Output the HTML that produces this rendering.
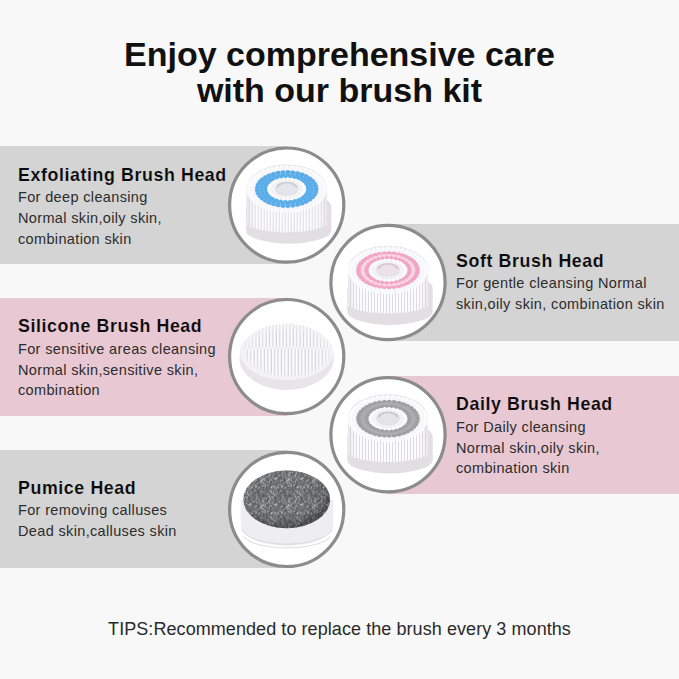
<!DOCTYPE html>
<html><head><meta charset="utf-8"><style>
html,body{margin:0;padding:0;}
body{width:679px;height:679px;background:#f8f8f8;position:relative;overflow:hidden;font-family:"Liberation Sans",sans-serif;}
.t{position:absolute;white-space:nowrap;}
.b{position:absolute;}
svg{position:absolute;left:0;top:0;}
</style></head><body>
<div class="b" style="left:0px;top:146px;width:287px;height:117.5px;background:#d4d4d4"></div>
<div class="b" style="left:388px;top:224px;width:291px;height:117.3px;background:#d4d4d4"></div>
<div class="b" style="left:0px;top:297.7px;width:287px;height:118px;background:#e8c9d3"></div>
<div class="b" style="left:388px;top:376px;width:291px;height:117.7px;background:#e8c9d3"></div>
<div class="b" style="left:0px;top:449.7px;width:287px;height:118px;background:#d4d4d4"></div>
<div class="t" style="left:0px;top:36.22px;font-size:34px;line-height:36px;font-weight:bold;color:#111;width:679px;text-align:center;">Enjoy comprehensive care</div>
<div class="t" style="left:0px;top:72.22px;font-size:34px;line-height:36px;font-weight:bold;color:#111;width:679px;text-align:center;">with our brush kit</div>
<div class="t" style="left:18px;top:163.73px;font-size:17.8px;line-height:22px;font-weight:bold;color:#0a0a0a;letter-spacing:0.6px;-webkit-text-stroke:0.15px #d4d4d4;">Exfoliating Brush Head</div>
<div class="t" style="left:18px;top:187.18px;font-size:14.5px;line-height:21px;font-weight:normal;color:#2c2c2c;letter-spacing:0.35px;">For deep cleansing</div>
<div class="t" style="left:18px;top:207.98px;font-size:14.5px;line-height:21px;font-weight:normal;color:#2c2c2c;letter-spacing:0.35px;">Normal skin,oily skin,</div>
<div class="t" style="left:18px;top:228.78px;font-size:14.5px;line-height:21px;font-weight:normal;color:#2c2c2c;letter-spacing:0.35px;">combination skin</div>
<div class="t" style="left:456px;top:249.63px;font-size:17.8px;line-height:22px;font-weight:bold;color:#0a0a0a;letter-spacing:0.6px;-webkit-text-stroke:0.15px #d4d4d4;">Soft Brush Head</div>
<div class="t" style="left:456px;top:273.08px;font-size:14.5px;line-height:21px;font-weight:normal;color:#2c2c2c;letter-spacing:0.35px;">For gentle cleansing Normal</div>
<div class="t" style="left:456px;top:293.88px;font-size:14.5px;line-height:21px;font-weight:normal;color:#2c2c2c;letter-spacing:0.35px;">skin,oily skin, combination skin</div>
<div class="t" style="left:18px;top:315.33px;font-size:17.8px;line-height:22px;font-weight:bold;color:#0a0a0a;letter-spacing:0.6px;-webkit-text-stroke:0.15px #e8c9d3;">Silicone Brush Head</div>
<div class="t" style="left:18px;top:338.78px;font-size:14.5px;line-height:21px;font-weight:normal;color:#2c2c2c;letter-spacing:0.35px;">For sensitive areas cleansing</div>
<div class="t" style="left:18px;top:359.58px;font-size:14.5px;line-height:21px;font-weight:normal;color:#2c2c2c;letter-spacing:0.35px;">Normal skin,sensitive skin,</div>
<div class="t" style="left:18px;top:380.38px;font-size:14.5px;line-height:21px;font-weight:normal;color:#2c2c2c;letter-spacing:0.35px;">combination</div>
<div class="t" style="left:456px;top:393.33px;font-size:17.8px;line-height:22px;font-weight:bold;color:#0a0a0a;letter-spacing:0.6px;-webkit-text-stroke:0.15px #e8c9d3;">Daily Brush Head</div>
<div class="t" style="left:456px;top:416.78px;font-size:14.5px;line-height:21px;font-weight:normal;color:#2c2c2c;letter-spacing:0.35px;">For Daily cleansing</div>
<div class="t" style="left:456px;top:437.58px;font-size:14.5px;line-height:21px;font-weight:normal;color:#2c2c2c;letter-spacing:0.35px;">Normal skin,oily skin,</div>
<div class="t" style="left:456px;top:458.38px;font-size:14.5px;line-height:21px;font-weight:normal;color:#2c2c2c;letter-spacing:0.35px;">combination skin</div>
<div class="t" style="left:18px;top:476.93px;font-size:17.8px;line-height:22px;font-weight:bold;color:#0a0a0a;letter-spacing:0.6px;-webkit-text-stroke:0.15px #d4d4d4;">Pumice Head</div>
<div class="t" style="left:18px;top:500.38px;font-size:14.5px;line-height:21px;font-weight:normal;color:#2c2c2c;letter-spacing:0.35px;">For removing calluses</div>
<div class="t" style="left:18px;top:521.18px;font-size:14.5px;line-height:21px;font-weight:normal;color:#2c2c2c;letter-spacing:0.35px;">Dead skin,calluses skin</div>
<div class="t" style="left:0px;top:618.76px;font-size:18px;line-height:20px;font-weight:normal;color:#2a2a2a;width:679px;text-align:center;letter-spacing:0.07px;">TIPS:Recommended to replace the brush every 3 months</div>
<svg width="679" height="679" viewBox="0 0 679 679">
<defs>
<pattern id="bristle" width="3.2" height="80" patternUnits="userSpaceOnUse">
<rect width="3.2" height="80" fill="#f7f7f9"/><rect x="2.3" width="0.9" height="80" fill="#cfcfd6"/></pattern>
<linearGradient id="sideshade" x1="0" x2="1" y1="0" y2="0">
<stop offset="0" stop-color="#b8b8c0" stop-opacity="0.3"/><stop offset="0.15" stop-color="#fff" stop-opacity="0"/>
<stop offset="0.85" stop-color="#fff" stop-opacity="0"/><stop offset="1" stop-color="#b8b8c0" stop-opacity="0.3"/></linearGradient>
<pattern id="ridges" width="4.2" height="60" patternUnits="userSpaceOnUse" x="0.5">
<rect width="4.2" height="60" fill="#f6f5f7"/><rect x="2.8" width="1.4" height="60" fill="#d6d5da"/></pattern>
<radialGradient id="stoneshade" cx="0.42" cy="0.38" r="0.6">
<stop offset="0.5" stop-color="#fff" stop-opacity="0.06"/><stop offset="1" stop-color="#000" stop-opacity="0.25"/></radialGradient>
<radialGradient id="ridgefade" cx="0.5" cy="0.5" r="0.5">
<stop offset="0.75" stop-color="#f2f1f4" stop-opacity="0"/><stop offset="1" stop-color="#f2f1f4" stop-opacity="0.85"/></radialGradient>
<pattern id="speck" width="26" height="26" patternUnits="userSpaceOnUse"><rect x="10" y="4" width="1" height="1" fill="#d0d0d4"/><rect x="20" y="1" width="1" height="1" fill="#808084"/><rect x="17" y="3" width="1" height="1" fill="#c4c4c8"/><rect x="18" y="1" width="1" height="1" fill="#a0a0a4"/><rect x="1" y="2" width="1" height="1" fill="#d0d0d4"/><rect x="13" y="2" width="1" height="1" fill="#a0a0a4"/><rect x="2" y="17" width="1" height="1" fill="#d0d0d4"/><rect x="1" y="18" width="1" height="1" fill="#808084"/><rect x="7" y="20" width="1" height="1" fill="#6e6e72"/><rect x="18" y="18" width="1" height="1" fill="#d0d0d4"/><rect x="1" y="7" width="1" height="1" fill="#6e6e72"/><rect x="17" y="4" width="1" height="1" fill="#b0b0b4"/><rect x="13" y="4" width="1" height="1" fill="#808084"/><rect x="18" y="9" width="1" height="1" fill="#909094"/><rect x="3" y="18" width="1" height="1" fill="#a0a0a4"/><rect x="11" y="3" width="1" height="1" fill="#808084"/><rect x="18" y="1" width="1" height="1" fill="#a0a0a4"/><rect x="15" y="21" width="1" height="1" fill="#d0d0d4"/><rect x="24" y="10" width="1" height="1" fill="#3a3a3e"/><rect x="18" y="14" width="1" height="1" fill="#c4c4c8"/><rect x="9" y="7" width="1" height="1" fill="#909094"/><rect x="22" y="24" width="1" height="1" fill="#a0a0a4"/><rect x="2" y="18" width="1" height="1" fill="#b0b0b4"/><rect x="16" y="15" width="1" height="1" fill="#c4c4c8"/><rect x="23" y="14" width="1" height="1" fill="#b0b0b4"/><rect x="19" y="2" width="1" height="1" fill="#808084"/><rect x="16" y="13" width="1" height="1" fill="#909094"/><rect x="24" y="10" width="1" height="1" fill="#909094"/><rect x="15" y="13" width="1" height="1" fill="#6e6e72"/><rect x="21" y="2" width="1" height="1" fill="#c4c4c8"/><rect x="10" y="22" width="1" height="1" fill="#c4c4c8"/><rect x="19" y="15" width="1" height="1" fill="#3a3a3e"/><rect x="2" y="2" width="1" height="1" fill="#b0b0b4"/><rect x="15" y="22" width="1" height="1" fill="#808084"/><rect x="1" y="23" width="1" height="1" fill="#b0b0b4"/><rect x="20" y="18" width="1" height="1" fill="#3a3a3e"/><rect x="9" y="22" width="1" height="1" fill="#d0d0d4"/><rect x="21" y="11" width="1" height="1" fill="#6e6e72"/><rect x="14" y="11" width="1" height="1" fill="#909094"/><rect x="19" y="3" width="1" height="1" fill="#3a3a3e"/><rect x="1" y="6" width="1" height="1" fill="#b0b0b4"/><rect x="4" y="23" width="1" height="1" fill="#a0a0a4"/><rect x="12" y="12" width="1" height="1" fill="#3a3a3e"/><rect x="2" y="5" width="1" height="1" fill="#3a3a3e"/><rect x="12" y="17" width="1" height="1" fill="#b0b0b4"/><rect x="4" y="13" width="1" height="1" fill="#b0b0b4"/><rect x="22" y="13" width="1" height="1" fill="#c4c4c8"/><rect x="21" y="12" width="1" height="1" fill="#a0a0a4"/><rect x="4" y="2" width="1" height="1" fill="#909094"/><rect x="4" y="7" width="1" height="1" fill="#a0a0a4"/><rect x="0" y="15" width="1" height="1" fill="#909094"/><rect x="8" y="9" width="1" height="1" fill="#6e6e72"/><rect x="4" y="13" width="1" height="1" fill="#c4c4c8"/><rect x="19" y="18" width="1" height="1" fill="#c4c4c8"/><rect x="4" y="22" width="1" height="1" fill="#6e6e72"/><rect x="14" y="24" width="1" height="1" fill="#d0d0d4"/><rect x="12" y="12" width="1" height="1" fill="#d0d0d4"/><rect x="3" y="15" width="1" height="1" fill="#d0d0d4"/><rect x="1" y="6" width="1" height="1" fill="#808084"/><rect x="6" y="14" width="1" height="1" fill="#909094"/><rect x="3" y="10" width="1" height="1" fill="#6e6e72"/><rect x="3" y="0" width="1" height="1" fill="#909094"/><rect x="17" y="3" width="1" height="1" fill="#c4c4c8"/><rect x="19" y="0" width="1" height="1" fill="#808084"/><rect x="6" y="19" width="1" height="1" fill="#d0d0d4"/><rect x="4" y="20" width="1" height="1" fill="#b0b0b4"/><rect x="11" y="19" width="1" height="1" fill="#c4c4c8"/><rect x="15" y="3" width="1" height="1" fill="#808084"/><rect x="15" y="14" width="1" height="1" fill="#3a3a3e"/><rect x="15" y="9" width="1" height="1" fill="#808084"/><rect x="4" y="3" width="1" height="1" fill="#c4c4c8"/><rect x="23" y="8" width="1" height="1" fill="#3a3a3e"/><rect x="22" y="5" width="1" height="1" fill="#6e6e72"/><rect x="6" y="16" width="1" height="1" fill="#c4c4c8"/><rect x="4" y="22" width="1" height="1" fill="#6e6e72"/><rect x="24" y="16" width="1" height="1" fill="#b0b0b4"/><rect x="20" y="2" width="1" height="1" fill="#b0b0b4"/><rect x="16" y="11" width="1" height="1" fill="#909094"/><rect x="11" y="24" width="1" height="1" fill="#a0a0a4"/><rect x="17" y="17" width="1" height="1" fill="#c4c4c8"/><rect x="20" y="7" width="1" height="1" fill="#a0a0a4"/><rect x="25" y="7" width="1" height="1" fill="#d0d0d4"/><rect x="23" y="25" width="1" height="1" fill="#a0a0a4"/><rect x="6" y="16" width="1" height="1" fill="#3a3a3e"/><rect x="11" y="23" width="1" height="1" fill="#6e6e72"/><rect x="0" y="25" width="1" height="1" fill="#b0b0b4"/><rect x="15" y="8" width="1" height="1" fill="#a0a0a4"/><rect x="22" y="19" width="1" height="1" fill="#c4c4c8"/><rect x="14" y="25" width="1" height="1" fill="#c4c4c8"/><rect x="11" y="2" width="1" height="1" fill="#a0a0a4"/><rect x="3" y="7" width="1" height="1" fill="#3a3a3e"/><rect x="6" y="10" width="1" height="1" fill="#a0a0a4"/><rect x="15" y="19" width="1" height="1" fill="#6e6e72"/><rect x="15" y="20" width="1" height="1" fill="#c4c4c8"/><rect x="25" y="20" width="1" height="1" fill="#808084"/><rect x="21" y="3" width="1" height="1" fill="#d0d0d4"/><rect x="25" y="22" width="1" height="1" fill="#a0a0a4"/><rect x="15" y="5" width="1" height="1" fill="#d0d0d4"/><rect x="25" y="20" width="1" height="1" fill="#c4c4c8"/><rect x="2" y="25" width="1" height="1" fill="#d0d0d4"/><rect x="14" y="12" width="1" height="1" fill="#808084"/><rect x="23" y="5" width="1" height="1" fill="#909094"/><rect x="4" y="0" width="1" height="1" fill="#909094"/><rect x="18" y="14" width="1" height="1" fill="#909094"/><rect x="19" y="19" width="1" height="1" fill="#3a3a3e"/><rect x="21" y="11" width="1" height="1" fill="#909094"/><rect x="17" y="17" width="1" height="1" fill="#909094"/><rect x="0" y="0" width="1" height="1" fill="#808084"/><rect x="16" y="23" width="1" height="1" fill="#909094"/><rect x="13" y="6" width="1" height="1" fill="#a0a0a4"/><rect x="0" y="8" width="1" height="1" fill="#a0a0a4"/><rect x="9" y="16" width="1" height="1" fill="#a0a0a4"/><rect x="24" y="18" width="1" height="1" fill="#c4c4c8"/><rect x="8" y="17" width="1" height="1" fill="#d0d0d4"/><rect x="4" y="1" width="1" height="1" fill="#c4c4c8"/><rect x="14" y="21" width="1" height="1" fill="#d0d0d4"/><rect x="16" y="4" width="1" height="1" fill="#909094"/><rect x="16" y="16" width="1" height="1" fill="#6e6e72"/><rect x="14" y="24" width="1" height="1" fill="#909094"/><rect x="19" y="0" width="1" height="1" fill="#909094"/><rect x="5" y="4" width="1" height="1" fill="#3a3a3e"/><rect x="19" y="23" width="1" height="1" fill="#808084"/><rect x="17" y="1" width="1" height="1" fill="#c4c4c8"/><rect x="21" y="16" width="1" height="1" fill="#3a3a3e"/><rect x="25" y="24" width="1" height="1" fill="#808084"/><rect x="17" y="1" width="1" height="1" fill="#a0a0a4"/><rect x="6" y="8" width="1" height="1" fill="#6e6e72"/><rect x="24" y="3" width="1" height="1" fill="#3a3a3e"/><rect x="17" y="0" width="1" height="1" fill="#808084"/><rect x="14" y="10" width="1" height="1" fill="#a0a0a4"/><rect x="22" y="8" width="1" height="1" fill="#3a3a3e"/><rect x="16" y="17" width="1" height="1" fill="#3a3a3e"/><rect x="16" y="7" width="1" height="1" fill="#b0b0b4"/><rect x="17" y="6" width="1" height="1" fill="#3a3a3e"/><rect x="4" y="13" width="1" height="1" fill="#808084"/><rect x="12" y="14" width="1" height="1" fill="#c4c4c8"/><rect x="2" y="21" width="1" height="1" fill="#a0a0a4"/><rect x="13" y="2" width="1" height="1" fill="#a0a0a4"/><rect x="21" y="9" width="1" height="1" fill="#808084"/><rect x="24" y="4" width="1" height="1" fill="#c4c4c8"/><rect x="4" y="8" width="1" height="1" fill="#909094"/><rect x="14" y="7" width="1" height="1" fill="#808084"/><rect x="12" y="15" width="1" height="1" fill="#909094"/><rect x="21" y="7" width="1" height="1" fill="#909094"/><rect x="22" y="13" width="1" height="1" fill="#d0d0d4"/><rect x="10" y="13" width="1" height="1" fill="#a0a0a4"/><rect x="11" y="10" width="1" height="1" fill="#808084"/><rect x="23" y="11" width="1" height="1" fill="#6e6e72"/><rect x="10" y="17" width="1" height="1" fill="#3a3a3e"/><rect x="14" y="22" width="1" height="1" fill="#6e6e72"/><rect x="12" y="10" width="1" height="1" fill="#b0b0b4"/><rect x="16" y="2" width="1" height="1" fill="#808084"/><rect x="25" y="7" width="1" height="1" fill="#808084"/><rect x="2" y="8" width="1" height="1" fill="#b0b0b4"/><rect x="1" y="24" width="1" height="1" fill="#909094"/><rect x="8" y="24" width="1" height="1" fill="#909094"/><rect x="13" y="21" width="1" height="1" fill="#b0b0b4"/><rect x="12" y="4" width="1" height="1" fill="#3a3a3e"/><rect x="22" y="10" width="1" height="1" fill="#808084"/><rect x="8" y="1" width="1" height="1" fill="#909094"/><rect x="13" y="2" width="1" height="1" fill="#b0b0b4"/><rect x="0" y="20" width="1" height="1" fill="#808084"/><rect x="25" y="8" width="1" height="1" fill="#808084"/><rect x="19" y="7" width="1" height="1" fill="#808084"/><rect x="8" y="3" width="1" height="1" fill="#3a3a3e"/><rect x="0" y="10" width="1" height="1" fill="#d0d0d4"/><rect x="8" y="19" width="1" height="1" fill="#909094"/><rect x="1" y="16" width="1" height="1" fill="#a0a0a4"/><rect x="3" y="5" width="1" height="1" fill="#b0b0b4"/><rect x="1" y="5" width="1" height="1" fill="#a0a0a4"/><rect x="9" y="20" width="1" height="1" fill="#b0b0b4"/><rect x="16" y="24" width="1" height="1" fill="#a0a0a4"/><rect x="9" y="14" width="1" height="1" fill="#909094"/><rect x="8" y="11" width="1" height="1" fill="#6e6e72"/><rect x="8" y="1" width="1" height="1" fill="#6e6e72"/><rect x="0" y="23" width="1" height="1" fill="#a0a0a4"/><rect x="16" y="15" width="1" height="1" fill="#a0a0a4"/><rect x="14" y="3" width="1" height="1" fill="#d0d0d4"/><rect x="21" y="15" width="1" height="1" fill="#d0d0d4"/><rect x="16" y="9" width="1" height="1" fill="#a0a0a4"/><rect x="7" y="10" width="1" height="1" fill="#a0a0a4"/><rect x="22" y="23" width="1" height="1" fill="#909094"/><rect x="12" y="11" width="1" height="1" fill="#6e6e72"/><rect x="4" y="0" width="1" height="1" fill="#808084"/><rect x="20" y="23" width="1" height="1" fill="#b0b0b4"/><rect x="13" y="5" width="1" height="1" fill="#6e6e72"/><rect x="2" y="21" width="1" height="1" fill="#d0d0d4"/><rect x="16" y="21" width="1" height="1" fill="#b0b0b4"/><rect x="19" y="7" width="1" height="1" fill="#b0b0b4"/><rect x="1" y="14" width="1" height="1" fill="#909094"/><rect x="5" y="8" width="1" height="1" fill="#3a3a3e"/><rect x="0" y="8" width="1" height="1" fill="#c4c4c8"/><rect x="10" y="17" width="1" height="1" fill="#c4c4c8"/><rect x="7" y="1" width="1" height="1" fill="#b0b0b4"/><rect x="6" y="11" width="1" height="1" fill="#909094"/><rect x="0" y="10" width="1" height="1" fill="#d0d0d4"/><rect x="2" y="15" width="1" height="1" fill="#b0b0b4"/><rect x="16" y="20" width="1" height="1" fill="#a0a0a4"/><rect x="7" y="16" width="1" height="1" fill="#6e6e72"/><rect x="2" y="8" width="1" height="1" fill="#808084"/><rect x="4" y="12" width="1" height="1" fill="#6e6e72"/><rect x="12" y="0" width="1" height="1" fill="#b0b0b4"/><rect x="9" y="20" width="1" height="1" fill="#a0a0a4"/><rect x="2" y="18" width="1" height="1" fill="#909094"/><rect x="21" y="22" width="1" height="1" fill="#d0d0d4"/><rect x="24" y="10" width="1" height="1" fill="#3a3a3e"/><rect x="4" y="9" width="1" height="1" fill="#909094"/><rect x="1" y="22" width="1" height="1" fill="#d0d0d4"/><rect x="23" y="22" width="1" height="1" fill="#909094"/><rect x="16" y="24" width="1" height="1" fill="#6e6e72"/><rect x="21" y="18" width="1" height="1" fill="#a0a0a4"/><rect x="2" y="0" width="1" height="1" fill="#6e6e72"/><rect x="4" y="20" width="1" height="1" fill="#c4c4c8"/><rect x="3" y="12" width="1" height="1" fill="#3a3a3e"/><rect x="17" y="1" width="1" height="1" fill="#6e6e72"/><rect x="20" y="17" width="1" height="1" fill="#a0a0a4"/><rect x="15" y="8" width="1" height="1" fill="#6e6e72"/><rect x="14" y="25" width="1" height="1" fill="#808084"/><rect x="23" y="16" width="1" height="1" fill="#808084"/><rect x="21" y="16" width="1" height="1" fill="#808084"/><rect x="23" y="23" width="1" height="1" fill="#3a3a3e"/><rect x="8" y="25" width="1" height="1" fill="#808084"/><rect x="8" y="7" width="1" height="1" fill="#a0a0a4"/><rect x="7" y="23" width="1" height="1" fill="#3a3a3e"/><rect x="15" y="12" width="1" height="1" fill="#808084"/><rect x="15" y="21" width="1" height="1" fill="#b0b0b4"/><rect x="24" y="1" width="1" height="1" fill="#a0a0a4"/><rect x="2" y="19" width="1" height="1" fill="#909094"/><rect x="10" y="8" width="1" height="1" fill="#b0b0b4"/><rect x="19" y="18" width="1" height="1" fill="#909094"/><rect x="0" y="15" width="1" height="1" fill="#6e6e72"/><rect x="15" y="8" width="1" height="1" fill="#808084"/><rect x="22" y="6" width="1" height="1" fill="#3a3a3e"/><rect x="9" y="22" width="1" height="1" fill="#b0b0b4"/><rect x="14" y="14" width="1" height="1" fill="#3a3a3e"/><rect x="24" y="3" width="1" height="1" fill="#a0a0a4"/><rect x="9" y="2" width="1" height="1" fill="#3a3a3e"/><rect x="0" y="9" width="1" height="1" fill="#3a3a3e"/><rect x="2" y="16" width="1" height="1" fill="#3a3a3e"/><rect x="8" y="12" width="1" height="1" fill="#a0a0a4"/><rect x="6" y="2" width="1" height="1" fill="#808084"/><rect x="4" y="23" width="1" height="1" fill="#b0b0b4"/><rect x="11" y="4" width="1" height="1" fill="#b0b0b4"/><rect x="3" y="22" width="1" height="1" fill="#c4c4c8"/><rect x="7" y="15" width="1" height="1" fill="#3a3a3e"/><rect x="12" y="0" width="1" height="1" fill="#909094"/><rect x="0" y="15" width="1" height="1" fill="#3a3a3e"/><rect x="12" y="9" width="1" height="1" fill="#909094"/><rect x="13" y="11" width="1" height="1" fill="#d0d0d4"/><rect x="10" y="3" width="1" height="1" fill="#c4c4c8"/><rect x="0" y="10" width="1" height="1" fill="#c4c4c8"/><rect x="12" y="3" width="1" height="1" fill="#a0a0a4"/><rect x="22" y="0" width="1" height="1" fill="#b0b0b4"/><rect x="8" y="11" width="1" height="1" fill="#808084"/><rect x="12" y="12" width="1" height="1" fill="#808084"/><rect x="11" y="13" width="1" height="1" fill="#b0b0b4"/><rect x="1" y="8" width="1" height="1" fill="#808084"/><rect x="1" y="21" width="1" height="1" fill="#b0b0b4"/><rect x="20" y="4" width="1" height="1" fill="#a0a0a4"/><rect x="8" y="13" width="1" height="1" fill="#c4c4c8"/><rect x="6" y="24" width="1" height="1" fill="#c4c4c8"/><rect x="25" y="13" width="1" height="1" fill="#6e6e72"/><rect x="25" y="24" width="1" height="1" fill="#d0d0d4"/><rect x="17" y="17" width="1" height="1" fill="#a0a0a4"/><rect x="23" y="2" width="1" height="1" fill="#6e6e72"/><rect x="23" y="13" width="1" height="1" fill="#3a3a3e"/><rect x="19" y="24" width="1" height="1" fill="#909094"/><rect x="20" y="9" width="1" height="1" fill="#3a3a3e"/><rect x="1" y="17" width="1" height="1" fill="#909094"/><rect x="5" y="15" width="1" height="1" fill="#d0d0d4"/><rect x="10" y="9" width="1" height="1" fill="#b0b0b4"/><rect x="8" y="23" width="1" height="1" fill="#b0b0b4"/><rect x="12" y="20" width="1" height="1" fill="#a0a0a4"/><rect x="9" y="15" width="1" height="1" fill="#d0d0d4"/><rect x="3" y="5" width="1" height="1" fill="#909094"/><rect x="2" y="6" width="1" height="1" fill="#3a3a3e"/><rect x="17" y="7" width="1" height="1" fill="#3a3a3e"/><rect x="10" y="24" width="1" height="1" fill="#3a3a3e"/><rect x="13" y="4" width="1" height="1" fill="#a0a0a4"/><rect x="7" y="2" width="1" height="1" fill="#909094"/><rect x="10" y="17" width="1" height="1" fill="#808084"/><rect x="10" y="7" width="1" height="1" fill="#c4c4c8"/><rect x="8" y="25" width="1" height="1" fill="#a0a0a4"/><rect x="0" y="23" width="1" height="1" fill="#d0d0d4"/><rect x="12" y="13" width="1" height="1" fill="#a0a0a4"/><rect x="12" y="8" width="1" height="1" fill="#c4c4c8"/><rect x="24" y="1" width="1" height="1" fill="#3a3a3e"/><rect x="8" y="18" width="1" height="1" fill="#c4c4c8"/><rect x="4" y="21" width="1" height="1" fill="#a0a0a4"/><rect x="2" y="8" width="1" height="1" fill="#a0a0a4"/><rect x="12" y="12" width="1" height="1" fill="#3a3a3e"/><rect x="13" y="9" width="1" height="1" fill="#6e6e72"/><rect x="4" y="1" width="1" height="1" fill="#d0d0d4"/><rect x="22" y="24" width="1" height="1" fill="#3a3a3e"/><rect x="18" y="15" width="1" height="1" fill="#6e6e72"/><rect x="2" y="12" width="1" height="1" fill="#3a3a3e"/><rect x="14" y="7" width="1" height="1" fill="#808084"/><rect x="7" y="4" width="1" height="1" fill="#909094"/><rect x="16" y="21" width="1" height="1" fill="#808084"/><rect x="23" y="22" width="1" height="1" fill="#3a3a3e"/></pattern>
</defs>
<circle cx="286.7" cy="205.1" r="57.1" fill="#fff" stroke="#8c8c8c" stroke-width="3.2"/>
<circle cx="388" cy="282.5" r="57.1" fill="#fff" stroke="#8c8c8c" stroke-width="3.2"/>
<circle cx="286.7" cy="356.6" r="57.1" fill="#fff" stroke="#8c8c8c" stroke-width="3.2"/>
<circle cx="388" cy="434.8" r="57.1" fill="#fff" stroke="#8c8c8c" stroke-width="3.2"/>
<circle cx="286.7" cy="509.4" r="57.1" fill="#fff" stroke="#8c8c8c" stroke-width="3.2"/>
<g transform="translate(286.7,205.1)">
<path d="M-40.7,24 L-40.7,2 A42.7,16 0 0 1 44.7,2 L44.7,24 A42.7,14.5 0 0 1 -40.7,24 Z" fill="#e2dee2"/>
<path d="M-40.7,24 A42.7,14.5 0 0 0 44.7,24 L44.7,26.5 A42.7,11.5 0 0 1 -40.7,26.5 Z" fill="#d3ced4" opacity="0.5"/>
<path d="M-40,-17.3 L-40,17 A40,10.5 0 0 0 40,17 L40,-17.3 Z" fill="#d9d9df"/>
<path d="M-39.0,-14.0V18.8M-36.0,-9.7V20.8M-33.0,-6.9V22.1M-30.0,-4.7V23.1M-27.0,-3.0V23.8M-24.0,-1.6V24.5M-21.0,-0.5V25.0M-18.0,0.5V25.4M-15.0,1.3V25.8M-12.0,1.9V26.0M-9.0,2.3V26.2M-6.0,2.6V26.4M-3.0,2.8V26.5M0.0,2.9V26.5M3.0,2.8V26.5M6.0,2.6V26.4M9.0,2.3V26.2M12.0,1.9V26.0M15.0,1.3V25.8M18.0,0.5V25.4M21.0,-0.5V25.0M24.0,-1.6V24.5M27.0,-3.0V23.8M30.0,-4.7V23.1M33.0,-6.9V22.1M36.0,-9.7V20.8M39.0,-14.0V18.8" stroke="#fcfcfe" stroke-width="2.1" stroke-linecap="round" fill="none"/>
<path d="M-40,-17.3 L-40,17 A40,10.5 0 0 0 40,17 L40,-17.3 Z" fill="url(#sideshade)"/>
<ellipse cx="0" cy="-17.3" rx="40.0" ry="23.2" fill="#e2e2e8"/>
<ellipse cx="0" cy="-16.1" rx="31.5" ry="18.3" fill="#a6d1f0"/>
<ellipse cx="0" cy="-16.1" rx="19.5" ry="11.3" fill="#e2e2e8"/>
<ellipse cx="38.0" cy="-16.1" rx="2.4" ry="1.9" fill="#fbfbfd"/><ellipse cx="37.7" cy="-13.2" rx="2.4" ry="1.9" fill="#fbfbfd"/><ellipse cx="36.7" cy="-10.4" rx="2.4" ry="1.9" fill="#fbfbfd"/><ellipse cx="35.1" cy="-7.7" rx="2.4" ry="1.9" fill="#fbfbfd"/><ellipse cx="32.9" cy="-5.1" rx="2.4" ry="1.9" fill="#fbfbfd"/><ellipse cx="30.1" cy="-2.7" rx="2.4" ry="1.9" fill="#fbfbfd"/><ellipse cx="26.9" cy="-0.5" rx="2.4" ry="1.9" fill="#fbfbfd"/><ellipse cx="23.1" cy="1.4" rx="2.4" ry="1.9" fill="#fbfbfd"/><ellipse cx="19.0" cy="3.0" rx="2.4" ry="1.9" fill="#fbfbfd"/><ellipse cx="14.5" cy="4.3" rx="2.4" ry="1.9" fill="#fbfbfd"/><ellipse cx="9.8" cy="5.2" rx="2.4" ry="1.9" fill="#fbfbfd"/><ellipse cx="5.0" cy="5.8" rx="2.4" ry="1.9" fill="#fbfbfd"/><ellipse cx="0.0" cy="5.9" rx="2.4" ry="1.9" fill="#fbfbfd"/><ellipse cx="-5.0" cy="5.8" rx="2.4" ry="1.9" fill="#fbfbfd"/><ellipse cx="-9.8" cy="5.2" rx="2.4" ry="1.9" fill="#fbfbfd"/><ellipse cx="-14.5" cy="4.3" rx="2.4" ry="1.9" fill="#fbfbfd"/><ellipse cx="-19.0" cy="3.0" rx="2.4" ry="1.9" fill="#fbfbfd"/><ellipse cx="-23.1" cy="1.4" rx="2.4" ry="1.9" fill="#fbfbfd"/><ellipse cx="-26.9" cy="-0.5" rx="2.4" ry="1.9" fill="#fbfbfd"/><ellipse cx="-30.1" cy="-2.7" rx="2.4" ry="1.9" fill="#fbfbfd"/><ellipse cx="-32.9" cy="-5.1" rx="2.4" ry="1.9" fill="#fbfbfd"/><ellipse cx="-35.1" cy="-7.7" rx="2.4" ry="1.9" fill="#fbfbfd"/><ellipse cx="-36.7" cy="-10.4" rx="2.4" ry="1.9" fill="#fbfbfd"/><ellipse cx="-37.7" cy="-13.2" rx="2.4" ry="1.9" fill="#fbfbfd"/><ellipse cx="-38.0" cy="-16.1" rx="2.4" ry="1.9" fill="#fbfbfd"/><ellipse cx="-37.7" cy="-19.0" rx="2.4" ry="1.9" fill="#fbfbfd"/><ellipse cx="-36.7" cy="-21.8" rx="2.4" ry="1.9" fill="#fbfbfd"/><ellipse cx="-35.1" cy="-24.5" rx="2.4" ry="1.9" fill="#fbfbfd"/><ellipse cx="-32.9" cy="-27.1" rx="2.4" ry="1.9" fill="#fbfbfd"/><ellipse cx="-30.1" cy="-29.5" rx="2.4" ry="1.9" fill="#fbfbfd"/><ellipse cx="-26.9" cy="-31.7" rx="2.4" ry="1.9" fill="#fbfbfd"/><ellipse cx="-23.1" cy="-33.6" rx="2.4" ry="1.9" fill="#fbfbfd"/><ellipse cx="-19.0" cy="-35.2" rx="2.4" ry="1.9" fill="#fbfbfd"/><ellipse cx="-14.5" cy="-36.5" rx="2.4" ry="1.9" fill="#fbfbfd"/><ellipse cx="-9.8" cy="-37.4" rx="2.4" ry="1.9" fill="#fbfbfd"/><ellipse cx="-5.0" cy="-38.0" rx="2.4" ry="1.9" fill="#fbfbfd"/><ellipse cx="-0.0" cy="-38.1" rx="2.4" ry="1.9" fill="#fbfbfd"/><ellipse cx="5.0" cy="-38.0" rx="2.4" ry="1.9" fill="#fbfbfd"/><ellipse cx="9.8" cy="-37.4" rx="2.4" ry="1.9" fill="#fbfbfd"/><ellipse cx="14.5" cy="-36.5" rx="2.4" ry="1.9" fill="#fbfbfd"/><ellipse cx="19.0" cy="-35.2" rx="2.4" ry="1.9" fill="#fbfbfd"/><ellipse cx="23.1" cy="-33.6" rx="2.4" ry="1.9" fill="#fbfbfd"/><ellipse cx="26.9" cy="-31.7" rx="2.4" ry="1.9" fill="#fbfbfd"/><ellipse cx="30.1" cy="-29.5" rx="2.4" ry="1.9" fill="#fbfbfd"/><ellipse cx="32.9" cy="-27.1" rx="2.4" ry="1.9" fill="#fbfbfd"/><ellipse cx="35.1" cy="-24.5" rx="2.4" ry="1.9" fill="#fbfbfd"/><ellipse cx="36.7" cy="-21.8" rx="2.4" ry="1.9" fill="#fbfbfd"/><ellipse cx="37.7" cy="-19.0" rx="2.4" ry="1.9" fill="#fbfbfd"/>
<ellipse cx="34.1" cy="-14.7" rx="2.3" ry="1.8" fill="#f8f8fa"/><ellipse cx="33.5" cy="-12.0" rx="2.3" ry="1.8" fill="#f8f8fa"/><ellipse cx="32.1" cy="-9.3" rx="2.3" ry="1.8" fill="#f8f8fa"/><ellipse cx="30.2" cy="-6.8" rx="2.3" ry="1.8" fill="#f8f8fa"/><ellipse cx="27.7" cy="-4.4" rx="2.3" ry="1.8" fill="#f8f8fa"/><ellipse cx="24.6" cy="-2.3" rx="2.3" ry="1.8" fill="#f8f8fa"/><ellipse cx="21.1" cy="-0.5" rx="2.3" ry="1.8" fill="#f8f8fa"/><ellipse cx="17.1" cy="1.1" rx="2.3" ry="1.8" fill="#f8f8fa"/><ellipse cx="12.8" cy="2.3" rx="2.3" ry="1.8" fill="#f8f8fa"/><ellipse cx="8.3" cy="3.1" rx="2.3" ry="1.8" fill="#f8f8fa"/><ellipse cx="3.6" cy="3.6" rx="2.3" ry="1.8" fill="#f8f8fa"/><ellipse cx="-1.2" cy="3.7" rx="2.3" ry="1.8" fill="#f8f8fa"/><ellipse cx="-5.9" cy="3.4" rx="2.3" ry="1.8" fill="#f8f8fa"/><ellipse cx="-10.6" cy="2.8" rx="2.3" ry="1.8" fill="#f8f8fa"/><ellipse cx="-15.0" cy="1.7" rx="2.3" ry="1.8" fill="#f8f8fa"/><ellipse cx="-19.1" cy="0.3" rx="2.3" ry="1.8" fill="#f8f8fa"/><ellipse cx="-22.9" cy="-1.4" rx="2.3" ry="1.8" fill="#f8f8fa"/><ellipse cx="-26.2" cy="-3.3" rx="2.3" ry="1.8" fill="#f8f8fa"/><ellipse cx="-29.0" cy="-5.6" rx="2.3" ry="1.8" fill="#f8f8fa"/><ellipse cx="-31.2" cy="-8.0" rx="2.3" ry="1.8" fill="#f8f8fa"/><ellipse cx="-32.9" cy="-10.6" rx="2.3" ry="1.8" fill="#f8f8fa"/><ellipse cx="-33.9" cy="-13.3" rx="2.3" ry="1.8" fill="#f8f8fa"/><ellipse cx="-34.2" cy="-16.1" rx="2.3" ry="1.8" fill="#f8f8fa"/><ellipse cx="-33.9" cy="-18.9" rx="2.3" ry="1.8" fill="#f8f8fa"/><ellipse cx="-32.9" cy="-21.6" rx="2.3" ry="1.8" fill="#f8f8fa"/><ellipse cx="-31.2" cy="-24.2" rx="2.3" ry="1.8" fill="#f8f8fa"/><ellipse cx="-29.0" cy="-26.6" rx="2.3" ry="1.8" fill="#f8f8fa"/><ellipse cx="-26.2" cy="-28.9" rx="2.3" ry="1.8" fill="#f8f8fa"/><ellipse cx="-22.9" cy="-30.8" rx="2.3" ry="1.8" fill="#f8f8fa"/><ellipse cx="-19.1" cy="-32.5" rx="2.3" ry="1.8" fill="#f8f8fa"/><ellipse cx="-15.0" cy="-33.9" rx="2.3" ry="1.8" fill="#f8f8fa"/><ellipse cx="-10.6" cy="-35.0" rx="2.3" ry="1.8" fill="#f8f8fa"/><ellipse cx="-5.9" cy="-35.6" rx="2.3" ry="1.8" fill="#f8f8fa"/><ellipse cx="-1.2" cy="-35.9" rx="2.3" ry="1.8" fill="#f8f8fa"/><ellipse cx="3.6" cy="-35.8" rx="2.3" ry="1.8" fill="#f8f8fa"/><ellipse cx="8.3" cy="-35.3" rx="2.3" ry="1.8" fill="#f8f8fa"/><ellipse cx="12.8" cy="-34.5" rx="2.3" ry="1.8" fill="#f8f8fa"/><ellipse cx="17.1" cy="-33.3" rx="2.3" ry="1.8" fill="#f8f8fa"/><ellipse cx="21.1" cy="-31.7" rx="2.3" ry="1.8" fill="#f8f8fa"/><ellipse cx="24.6" cy="-29.9" rx="2.3" ry="1.8" fill="#f8f8fa"/><ellipse cx="27.7" cy="-27.8" rx="2.3" ry="1.8" fill="#f8f8fa"/><ellipse cx="30.2" cy="-25.4" rx="2.3" ry="1.8" fill="#f8f8fa"/><ellipse cx="32.1" cy="-22.9" rx="2.3" ry="1.8" fill="#f8f8fa"/><ellipse cx="33.5" cy="-20.2" rx="2.3" ry="1.8" fill="#f8f8fa"/><ellipse cx="34.1" cy="-17.5" rx="2.3" ry="1.8" fill="#f8f8fa"/>
<ellipse cx="29.4" cy="-16.1" rx="2.4" ry="1.9" fill="#5aade8"/><ellipse cx="29.0" cy="-13.2" rx="2.4" ry="1.9" fill="#5aade8"/><ellipse cx="27.7" cy="-10.4" rx="2.4" ry="1.9" fill="#5aade8"/><ellipse cx="25.7" cy="-7.8" rx="2.4" ry="1.9" fill="#5aade8"/><ellipse cx="22.9" cy="-5.4" rx="2.4" ry="1.9" fill="#5aade8"/><ellipse cx="19.4" cy="-3.3" rx="2.4" ry="1.9" fill="#5aade8"/><ellipse cx="15.4" cy="-1.6" rx="2.4" ry="1.9" fill="#5aade8"/><ellipse cx="11.0" cy="-0.3" rx="2.4" ry="1.9" fill="#5aade8"/><ellipse cx="6.2" cy="0.6" rx="2.4" ry="1.9" fill="#5aade8"/><ellipse cx="1.2" cy="0.9" rx="2.4" ry="1.9" fill="#5aade8"/><ellipse cx="-3.7" cy="0.8" rx="2.4" ry="1.9" fill="#5aade8"/><ellipse cx="-8.6" cy="0.2" rx="2.4" ry="1.9" fill="#5aade8"/><ellipse cx="-13.2" cy="-0.9" rx="2.4" ry="1.9" fill="#5aade8"/><ellipse cx="-17.5" cy="-2.4" rx="2.4" ry="1.9" fill="#5aade8"/><ellipse cx="-21.2" cy="-4.3" rx="2.4" ry="1.9" fill="#5aade8"/><ellipse cx="-24.4" cy="-6.6" rx="2.4" ry="1.9" fill="#5aade8"/><ellipse cx="-26.8" cy="-9.1" rx="2.4" ry="1.9" fill="#5aade8"/><ellipse cx="-28.5" cy="-11.8" rx="2.4" ry="1.9" fill="#5aade8"/><ellipse cx="-29.3" cy="-14.7" rx="2.4" ry="1.9" fill="#5aade8"/><ellipse cx="-29.3" cy="-17.5" rx="2.4" ry="1.9" fill="#5aade8"/><ellipse cx="-28.5" cy="-20.4" rx="2.4" ry="1.9" fill="#5aade8"/><ellipse cx="-26.8" cy="-23.1" rx="2.4" ry="1.9" fill="#5aade8"/><ellipse cx="-24.4" cy="-25.6" rx="2.4" ry="1.9" fill="#5aade8"/><ellipse cx="-21.2" cy="-27.9" rx="2.4" ry="1.9" fill="#5aade8"/><ellipse cx="-17.5" cy="-29.8" rx="2.4" ry="1.9" fill="#5aade8"/><ellipse cx="-13.2" cy="-31.3" rx="2.4" ry="1.9" fill="#5aade8"/><ellipse cx="-8.6" cy="-32.4" rx="2.4" ry="1.9" fill="#5aade8"/><ellipse cx="-3.7" cy="-33.0" rx="2.4" ry="1.9" fill="#5aade8"/><ellipse cx="1.2" cy="-33.1" rx="2.4" ry="1.9" fill="#5aade8"/><ellipse cx="6.2" cy="-32.8" rx="2.4" ry="1.9" fill="#5aade8"/><ellipse cx="11.0" cy="-31.9" rx="2.4" ry="1.9" fill="#5aade8"/><ellipse cx="15.4" cy="-30.6" rx="2.4" ry="1.9" fill="#5aade8"/><ellipse cx="19.4" cy="-28.9" rx="2.4" ry="1.9" fill="#5aade8"/><ellipse cx="22.9" cy="-26.8" rx="2.4" ry="1.9" fill="#5aade8"/><ellipse cx="25.7" cy="-24.4" rx="2.4" ry="1.9" fill="#5aade8"/><ellipse cx="27.7" cy="-21.8" rx="2.4" ry="1.9" fill="#5aade8"/><ellipse cx="29.0" cy="-19.0" rx="2.4" ry="1.9" fill="#5aade8"/>
<ellipse cx="25.2" cy="-16.1" rx="2.3" ry="1.8" fill="#5aade8"/><ellipse cx="24.7" cy="-13.3" rx="2.3" ry="1.8" fill="#5aade8"/><ellipse cx="23.4" cy="-10.7" rx="2.3" ry="1.8" fill="#5aade8"/><ellipse cx="21.2" cy="-8.2" rx="2.3" ry="1.8" fill="#5aade8"/><ellipse cx="18.2" cy="-6.0" rx="2.3" ry="1.8" fill="#5aade8"/><ellipse cx="14.6" cy="-4.2" rx="2.3" ry="1.8" fill="#5aade8"/><ellipse cx="10.5" cy="-2.8" rx="2.3" ry="1.8" fill="#5aade8"/><ellipse cx="5.9" cy="-1.9" rx="2.3" ry="1.8" fill="#5aade8"/><ellipse cx="1.2" cy="-1.5" rx="2.3" ry="1.8" fill="#5aade8"/><ellipse cx="-3.6" cy="-1.6" rx="2.3" ry="1.8" fill="#5aade8"/><ellipse cx="-8.2" cy="-2.3" rx="2.3" ry="1.8" fill="#5aade8"/><ellipse cx="-12.6" cy="-3.4" rx="2.3" ry="1.8" fill="#5aade8"/><ellipse cx="-16.5" cy="-5.1" rx="2.3" ry="1.8" fill="#5aade8"/><ellipse cx="-19.8" cy="-7.1" rx="2.3" ry="1.8" fill="#5aade8"/><ellipse cx="-22.4" cy="-9.4" rx="2.3" ry="1.8" fill="#5aade8"/><ellipse cx="-24.2" cy="-12.0" rx="2.3" ry="1.8" fill="#5aade8"/><ellipse cx="-25.1" cy="-14.7" rx="2.3" ry="1.8" fill="#5aade8"/><ellipse cx="-25.1" cy="-17.5" rx="2.3" ry="1.8" fill="#5aade8"/><ellipse cx="-24.2" cy="-20.2" rx="2.3" ry="1.8" fill="#5aade8"/><ellipse cx="-22.4" cy="-22.8" rx="2.3" ry="1.8" fill="#5aade8"/><ellipse cx="-19.8" cy="-25.1" rx="2.3" ry="1.8" fill="#5aade8"/><ellipse cx="-16.5" cy="-27.1" rx="2.3" ry="1.8" fill="#5aade8"/><ellipse cx="-12.6" cy="-28.8" rx="2.3" ry="1.8" fill="#5aade8"/><ellipse cx="-8.2" cy="-29.9" rx="2.3" ry="1.8" fill="#5aade8"/><ellipse cx="-3.6" cy="-30.6" rx="2.3" ry="1.8" fill="#5aade8"/><ellipse cx="1.2" cy="-30.7" rx="2.3" ry="1.8" fill="#5aade8"/><ellipse cx="5.9" cy="-30.3" rx="2.3" ry="1.8" fill="#5aade8"/><ellipse cx="10.5" cy="-29.4" rx="2.3" ry="1.8" fill="#5aade8"/><ellipse cx="14.6" cy="-28.0" rx="2.3" ry="1.8" fill="#5aade8"/><ellipse cx="18.2" cy="-26.2" rx="2.3" ry="1.8" fill="#5aade8"/><ellipse cx="21.2" cy="-24.0" rx="2.3" ry="1.8" fill="#5aade8"/><ellipse cx="23.4" cy="-21.5" rx="2.3" ry="1.8" fill="#5aade8"/><ellipse cx="24.7" cy="-18.9" rx="2.3" ry="1.8" fill="#5aade8"/>
<ellipse cx="21.6" cy="-16.1" rx="2.1" ry="1.7" fill="#5aade8"/><ellipse cx="21.2" cy="-13.6" rx="2.1" ry="1.7" fill="#5aade8"/><ellipse cx="19.8" cy="-11.2" rx="2.1" ry="1.7" fill="#5aade8"/><ellipse cx="17.7" cy="-8.9" rx="2.1" ry="1.7" fill="#5aade8"/><ellipse cx="14.9" cy="-7.0" rx="2.1" ry="1.7" fill="#5aade8"/><ellipse cx="11.4" cy="-5.5" rx="2.1" ry="1.7" fill="#5aade8"/><ellipse cx="7.5" cy="-4.4" rx="2.1" ry="1.7" fill="#5aade8"/><ellipse cx="3.3" cy="-3.7" rx="2.1" ry="1.7" fill="#5aade8"/><ellipse cx="-1.1" cy="-3.6" rx="2.1" ry="1.7" fill="#5aade8"/><ellipse cx="-5.4" cy="-4.0" rx="2.1" ry="1.7" fill="#5aade8"/><ellipse cx="-9.5" cy="-4.9" rx="2.1" ry="1.7" fill="#5aade8"/><ellipse cx="-13.2" cy="-6.2" rx="2.1" ry="1.7" fill="#5aade8"/><ellipse cx="-16.4" cy="-7.9" rx="2.1" ry="1.7" fill="#5aade8"/><ellipse cx="-18.9" cy="-10.0" rx="2.1" ry="1.7" fill="#5aade8"/><ellipse cx="-20.6" cy="-12.3" rx="2.1" ry="1.7" fill="#5aade8"/><ellipse cx="-21.5" cy="-14.8" rx="2.1" ry="1.7" fill="#5aade8"/><ellipse cx="-21.5" cy="-17.4" rx="2.1" ry="1.7" fill="#5aade8"/><ellipse cx="-20.6" cy="-19.9" rx="2.1" ry="1.7" fill="#5aade8"/><ellipse cx="-18.9" cy="-22.2" rx="2.1" ry="1.7" fill="#5aade8"/><ellipse cx="-16.4" cy="-24.3" rx="2.1" ry="1.7" fill="#5aade8"/><ellipse cx="-13.2" cy="-26.0" rx="2.1" ry="1.7" fill="#5aade8"/><ellipse cx="-9.5" cy="-27.3" rx="2.1" ry="1.7" fill="#5aade8"/><ellipse cx="-5.4" cy="-28.2" rx="2.1" ry="1.7" fill="#5aade8"/><ellipse cx="-1.1" cy="-28.6" rx="2.1" ry="1.7" fill="#5aade8"/><ellipse cx="3.3" cy="-28.5" rx="2.1" ry="1.7" fill="#5aade8"/><ellipse cx="7.5" cy="-27.8" rx="2.1" ry="1.7" fill="#5aade8"/><ellipse cx="11.4" cy="-26.7" rx="2.1" ry="1.7" fill="#5aade8"/><ellipse cx="14.9" cy="-25.2" rx="2.1" ry="1.7" fill="#5aade8"/><ellipse cx="17.7" cy="-23.3" rx="2.1" ry="1.7" fill="#5aade8"/><ellipse cx="19.8" cy="-21.0" rx="2.1" ry="1.7" fill="#5aade8"/><ellipse cx="21.2" cy="-18.6" rx="2.1" ry="1.7" fill="#5aade8"/>
<ellipse cx="17.3" cy="-16.1" rx="2.1" ry="1.7" fill="#fbfbfd"/><ellipse cx="16.8" cy="-13.6" rx="2.1" ry="1.7" fill="#fbfbfd"/><ellipse cx="15.2" cy="-11.3" rx="2.1" ry="1.7" fill="#fbfbfd"/><ellipse cx="12.6" cy="-9.2" rx="2.1" ry="1.7" fill="#fbfbfd"/><ellipse cx="9.3" cy="-7.6" rx="2.1" ry="1.7" fill="#fbfbfd"/><ellipse cx="5.3" cy="-6.6" rx="2.1" ry="1.7" fill="#fbfbfd"/><ellipse cx="1.1" cy="-6.1" rx="2.1" ry="1.7" fill="#fbfbfd"/><ellipse cx="-3.2" cy="-6.2" rx="2.1" ry="1.7" fill="#fbfbfd"/><ellipse cx="-7.4" cy="-7.0" rx="2.1" ry="1.7" fill="#fbfbfd"/><ellipse cx="-11.0" cy="-8.4" rx="2.1" ry="1.7" fill="#fbfbfd"/><ellipse cx="-14.0" cy="-10.2" rx="2.1" ry="1.7" fill="#fbfbfd"/><ellipse cx="-16.1" cy="-12.4" rx="2.1" ry="1.7" fill="#fbfbfd"/><ellipse cx="-17.2" cy="-14.8" rx="2.1" ry="1.7" fill="#fbfbfd"/><ellipse cx="-17.2" cy="-17.4" rx="2.1" ry="1.7" fill="#fbfbfd"/><ellipse cx="-16.1" cy="-19.8" rx="2.1" ry="1.7" fill="#fbfbfd"/><ellipse cx="-14.0" cy="-22.0" rx="2.1" ry="1.7" fill="#fbfbfd"/><ellipse cx="-11.0" cy="-23.8" rx="2.1" ry="1.7" fill="#fbfbfd"/><ellipse cx="-7.4" cy="-25.2" rx="2.1" ry="1.7" fill="#fbfbfd"/><ellipse cx="-3.2" cy="-26.0" rx="2.1" ry="1.7" fill="#fbfbfd"/><ellipse cx="1.1" cy="-26.1" rx="2.1" ry="1.7" fill="#fbfbfd"/><ellipse cx="5.3" cy="-25.6" rx="2.1" ry="1.7" fill="#fbfbfd"/><ellipse cx="9.3" cy="-24.6" rx="2.1" ry="1.7" fill="#fbfbfd"/><ellipse cx="12.6" cy="-23.0" rx="2.1" ry="1.7" fill="#fbfbfd"/><ellipse cx="15.2" cy="-20.9" rx="2.1" ry="1.7" fill="#fbfbfd"/><ellipse cx="16.8" cy="-18.6" rx="2.1" ry="1.7" fill="#fbfbfd"/>
<ellipse cx="13.6" cy="-16.1" rx="1.9" ry="1.5" fill="#f4f4f6"/><ellipse cx="13.0" cy="-13.8" rx="1.9" ry="1.5" fill="#f4f4f6"/><ellipse cx="11.2" cy="-11.7" rx="1.9" ry="1.5" fill="#f4f4f6"/><ellipse cx="8.5" cy="-9.9" rx="1.9" ry="1.5" fill="#f4f4f6"/><ellipse cx="5.0" cy="-8.8" rx="1.9" ry="1.5" fill="#f4f4f6"/><ellipse cx="1.0" cy="-8.2" rx="1.9" ry="1.5" fill="#f4f4f6"/><ellipse cx="-3.0" cy="-8.4" rx="1.9" ry="1.5" fill="#f4f4f6"/><ellipse cx="-6.8" cy="-9.3" rx="1.9" ry="1.5" fill="#f4f4f6"/><ellipse cx="-10.0" cy="-10.7" rx="1.9" ry="1.5" fill="#f4f4f6"/><ellipse cx="-12.3" cy="-12.7" rx="1.9" ry="1.5" fill="#f4f4f6"/><ellipse cx="-13.4" cy="-14.9" rx="1.9" ry="1.5" fill="#f4f4f6"/><ellipse cx="-13.4" cy="-17.3" rx="1.9" ry="1.5" fill="#f4f4f6"/><ellipse cx="-12.3" cy="-19.5" rx="1.9" ry="1.5" fill="#f4f4f6"/><ellipse cx="-10.0" cy="-21.5" rx="1.9" ry="1.5" fill="#f4f4f6"/><ellipse cx="-6.8" cy="-22.9" rx="1.9" ry="1.5" fill="#f4f4f6"/><ellipse cx="-3.0" cy="-23.8" rx="1.9" ry="1.5" fill="#f4f4f6"/><ellipse cx="1.0" cy="-24.0" rx="1.9" ry="1.5" fill="#f4f4f6"/><ellipse cx="5.0" cy="-23.4" rx="1.9" ry="1.5" fill="#f4f4f6"/><ellipse cx="8.5" cy="-22.3" rx="1.9" ry="1.5" fill="#f4f4f6"/><ellipse cx="11.2" cy="-20.5" rx="1.9" ry="1.5" fill="#f4f4f6"/><ellipse cx="13.0" cy="-18.4" rx="1.9" ry="1.5" fill="#f4f4f6"/>
<ellipse cx="0" cy="-17.5" rx="11" ry="5.9" fill="#e3e6ec"/>
<path d="M-11,-17.5 A11,5.9 0 0 1 11,-17.5 L8,-17.5 A8,4 0 0 0 -8,-17.5 Z" fill="#b9bfca" opacity="0.6"/>
</g>
<g transform="translate(388,286.3)">
<path d="M-40.7,24 L-40.7,2 A42.7,16 0 0 1 44.7,2 L44.7,24 A42.7,14.5 0 0 1 -40.7,24 Z" fill="#e2dee2"/>
<path d="M-40.7,24 A42.7,14.5 0 0 0 44.7,24 L44.7,26.5 A42.7,11.5 0 0 1 -40.7,26.5 Z" fill="#d3ced4" opacity="0.5"/>
<path d="M-40,-17.3 L-40,17 A40,10.5 0 0 0 40,17 L40,-17.3 Z" fill="#d9d9df"/>
<path d="M-39.0,-14.0V18.8M-36.0,-9.7V20.8M-33.0,-6.9V22.1M-30.0,-4.7V23.1M-27.0,-3.0V23.8M-24.0,-1.6V24.5M-21.0,-0.5V25.0M-18.0,0.5V25.4M-15.0,1.3V25.8M-12.0,1.9V26.0M-9.0,2.3V26.2M-6.0,2.6V26.4M-3.0,2.8V26.5M0.0,2.9V26.5M3.0,2.8V26.5M6.0,2.6V26.4M9.0,2.3V26.2M12.0,1.9V26.0M15.0,1.3V25.8M18.0,0.5V25.4M21.0,-0.5V25.0M24.0,-1.6V24.5M27.0,-3.0V23.8M30.0,-4.7V23.1M33.0,-6.9V22.1M36.0,-9.7V20.8M39.0,-14.0V18.8" stroke="#fcfcfe" stroke-width="2.1" stroke-linecap="round" fill="none"/>
<path d="M-40,-17.3 L-40,17 A40,10.5 0 0 0 40,17 L40,-17.3 Z" fill="url(#sideshade)"/>
<ellipse cx="0" cy="-17.3" rx="40.0" ry="23.2" fill="#e2e2e8"/>
<ellipse cx="0" cy="-16.1" rx="31.5" ry="18.3" fill="#f4bcd0"/>
<ellipse cx="0" cy="-16.1" rx="19.5" ry="11.3" fill="#e2e2e8"/>
<ellipse cx="38.0" cy="-16.1" rx="2.4" ry="1.9" fill="#fbfbfd"/><ellipse cx="37.7" cy="-13.2" rx="2.4" ry="1.9" fill="#fbfbfd"/><ellipse cx="36.7" cy="-10.4" rx="2.4" ry="1.9" fill="#fbfbfd"/><ellipse cx="35.1" cy="-7.7" rx="2.4" ry="1.9" fill="#fbfbfd"/><ellipse cx="32.9" cy="-5.1" rx="2.4" ry="1.9" fill="#fbfbfd"/><ellipse cx="30.1" cy="-2.7" rx="2.4" ry="1.9" fill="#fbfbfd"/><ellipse cx="26.9" cy="-0.5" rx="2.4" ry="1.9" fill="#fbfbfd"/><ellipse cx="23.1" cy="1.4" rx="2.4" ry="1.9" fill="#fbfbfd"/><ellipse cx="19.0" cy="3.0" rx="2.4" ry="1.9" fill="#fbfbfd"/><ellipse cx="14.5" cy="4.3" rx="2.4" ry="1.9" fill="#fbfbfd"/><ellipse cx="9.8" cy="5.2" rx="2.4" ry="1.9" fill="#fbfbfd"/><ellipse cx="5.0" cy="5.8" rx="2.4" ry="1.9" fill="#fbfbfd"/><ellipse cx="0.0" cy="5.9" rx="2.4" ry="1.9" fill="#fbfbfd"/><ellipse cx="-5.0" cy="5.8" rx="2.4" ry="1.9" fill="#fbfbfd"/><ellipse cx="-9.8" cy="5.2" rx="2.4" ry="1.9" fill="#fbfbfd"/><ellipse cx="-14.5" cy="4.3" rx="2.4" ry="1.9" fill="#fbfbfd"/><ellipse cx="-19.0" cy="3.0" rx="2.4" ry="1.9" fill="#fbfbfd"/><ellipse cx="-23.1" cy="1.4" rx="2.4" ry="1.9" fill="#fbfbfd"/><ellipse cx="-26.9" cy="-0.5" rx="2.4" ry="1.9" fill="#fbfbfd"/><ellipse cx="-30.1" cy="-2.7" rx="2.4" ry="1.9" fill="#fbfbfd"/><ellipse cx="-32.9" cy="-5.1" rx="2.4" ry="1.9" fill="#fbfbfd"/><ellipse cx="-35.1" cy="-7.7" rx="2.4" ry="1.9" fill="#fbfbfd"/><ellipse cx="-36.7" cy="-10.4" rx="2.4" ry="1.9" fill="#fbfbfd"/><ellipse cx="-37.7" cy="-13.2" rx="2.4" ry="1.9" fill="#fbfbfd"/><ellipse cx="-38.0" cy="-16.1" rx="2.4" ry="1.9" fill="#fbfbfd"/><ellipse cx="-37.7" cy="-19.0" rx="2.4" ry="1.9" fill="#fbfbfd"/><ellipse cx="-36.7" cy="-21.8" rx="2.4" ry="1.9" fill="#fbfbfd"/><ellipse cx="-35.1" cy="-24.5" rx="2.4" ry="1.9" fill="#fbfbfd"/><ellipse cx="-32.9" cy="-27.1" rx="2.4" ry="1.9" fill="#fbfbfd"/><ellipse cx="-30.1" cy="-29.5" rx="2.4" ry="1.9" fill="#fbfbfd"/><ellipse cx="-26.9" cy="-31.7" rx="2.4" ry="1.9" fill="#fbfbfd"/><ellipse cx="-23.1" cy="-33.6" rx="2.4" ry="1.9" fill="#fbfbfd"/><ellipse cx="-19.0" cy="-35.2" rx="2.4" ry="1.9" fill="#fbfbfd"/><ellipse cx="-14.5" cy="-36.5" rx="2.4" ry="1.9" fill="#fbfbfd"/><ellipse cx="-9.8" cy="-37.4" rx="2.4" ry="1.9" fill="#fbfbfd"/><ellipse cx="-5.0" cy="-38.0" rx="2.4" ry="1.9" fill="#fbfbfd"/><ellipse cx="-0.0" cy="-38.1" rx="2.4" ry="1.9" fill="#fbfbfd"/><ellipse cx="5.0" cy="-38.0" rx="2.4" ry="1.9" fill="#fbfbfd"/><ellipse cx="9.8" cy="-37.4" rx="2.4" ry="1.9" fill="#fbfbfd"/><ellipse cx="14.5" cy="-36.5" rx="2.4" ry="1.9" fill="#fbfbfd"/><ellipse cx="19.0" cy="-35.2" rx="2.4" ry="1.9" fill="#fbfbfd"/><ellipse cx="23.1" cy="-33.6" rx="2.4" ry="1.9" fill="#fbfbfd"/><ellipse cx="26.9" cy="-31.7" rx="2.4" ry="1.9" fill="#fbfbfd"/><ellipse cx="30.1" cy="-29.5" rx="2.4" ry="1.9" fill="#fbfbfd"/><ellipse cx="32.9" cy="-27.1" rx="2.4" ry="1.9" fill="#fbfbfd"/><ellipse cx="35.1" cy="-24.5" rx="2.4" ry="1.9" fill="#fbfbfd"/><ellipse cx="36.7" cy="-21.8" rx="2.4" ry="1.9" fill="#fbfbfd"/><ellipse cx="37.7" cy="-19.0" rx="2.4" ry="1.9" fill="#fbfbfd"/>
<ellipse cx="34.1" cy="-14.7" rx="2.3" ry="1.8" fill="#f8f8fa"/><ellipse cx="33.5" cy="-12.0" rx="2.3" ry="1.8" fill="#f8f8fa"/><ellipse cx="32.1" cy="-9.3" rx="2.3" ry="1.8" fill="#f8f8fa"/><ellipse cx="30.2" cy="-6.8" rx="2.3" ry="1.8" fill="#f8f8fa"/><ellipse cx="27.7" cy="-4.4" rx="2.3" ry="1.8" fill="#f8f8fa"/><ellipse cx="24.6" cy="-2.3" rx="2.3" ry="1.8" fill="#f8f8fa"/><ellipse cx="21.1" cy="-0.5" rx="2.3" ry="1.8" fill="#f8f8fa"/><ellipse cx="17.1" cy="1.1" rx="2.3" ry="1.8" fill="#f8f8fa"/><ellipse cx="12.8" cy="2.3" rx="2.3" ry="1.8" fill="#f8f8fa"/><ellipse cx="8.3" cy="3.1" rx="2.3" ry="1.8" fill="#f8f8fa"/><ellipse cx="3.6" cy="3.6" rx="2.3" ry="1.8" fill="#f8f8fa"/><ellipse cx="-1.2" cy="3.7" rx="2.3" ry="1.8" fill="#f8f8fa"/><ellipse cx="-5.9" cy="3.4" rx="2.3" ry="1.8" fill="#f8f8fa"/><ellipse cx="-10.6" cy="2.8" rx="2.3" ry="1.8" fill="#f8f8fa"/><ellipse cx="-15.0" cy="1.7" rx="2.3" ry="1.8" fill="#f8f8fa"/><ellipse cx="-19.1" cy="0.3" rx="2.3" ry="1.8" fill="#f8f8fa"/><ellipse cx="-22.9" cy="-1.4" rx="2.3" ry="1.8" fill="#f8f8fa"/><ellipse cx="-26.2" cy="-3.3" rx="2.3" ry="1.8" fill="#f8f8fa"/><ellipse cx="-29.0" cy="-5.6" rx="2.3" ry="1.8" fill="#f8f8fa"/><ellipse cx="-31.2" cy="-8.0" rx="2.3" ry="1.8" fill="#f8f8fa"/><ellipse cx="-32.9" cy="-10.6" rx="2.3" ry="1.8" fill="#f8f8fa"/><ellipse cx="-33.9" cy="-13.3" rx="2.3" ry="1.8" fill="#f8f8fa"/><ellipse cx="-34.2" cy="-16.1" rx="2.3" ry="1.8" fill="#f8f8fa"/><ellipse cx="-33.9" cy="-18.9" rx="2.3" ry="1.8" fill="#f8f8fa"/><ellipse cx="-32.9" cy="-21.6" rx="2.3" ry="1.8" fill="#f8f8fa"/><ellipse cx="-31.2" cy="-24.2" rx="2.3" ry="1.8" fill="#f8f8fa"/><ellipse cx="-29.0" cy="-26.6" rx="2.3" ry="1.8" fill="#f8f8fa"/><ellipse cx="-26.2" cy="-28.9" rx="2.3" ry="1.8" fill="#f8f8fa"/><ellipse cx="-22.9" cy="-30.8" rx="2.3" ry="1.8" fill="#f8f8fa"/><ellipse cx="-19.1" cy="-32.5" rx="2.3" ry="1.8" fill="#f8f8fa"/><ellipse cx="-15.0" cy="-33.9" rx="2.3" ry="1.8" fill="#f8f8fa"/><ellipse cx="-10.6" cy="-35.0" rx="2.3" ry="1.8" fill="#f8f8fa"/><ellipse cx="-5.9" cy="-35.6" rx="2.3" ry="1.8" fill="#f8f8fa"/><ellipse cx="-1.2" cy="-35.9" rx="2.3" ry="1.8" fill="#f8f8fa"/><ellipse cx="3.6" cy="-35.8" rx="2.3" ry="1.8" fill="#f8f8fa"/><ellipse cx="8.3" cy="-35.3" rx="2.3" ry="1.8" fill="#f8f8fa"/><ellipse cx="12.8" cy="-34.5" rx="2.3" ry="1.8" fill="#f8f8fa"/><ellipse cx="17.1" cy="-33.3" rx="2.3" ry="1.8" fill="#f8f8fa"/><ellipse cx="21.1" cy="-31.7" rx="2.3" ry="1.8" fill="#f8f8fa"/><ellipse cx="24.6" cy="-29.9" rx="2.3" ry="1.8" fill="#f8f8fa"/><ellipse cx="27.7" cy="-27.8" rx="2.3" ry="1.8" fill="#f8f8fa"/><ellipse cx="30.2" cy="-25.4" rx="2.3" ry="1.8" fill="#f8f8fa"/><ellipse cx="32.1" cy="-22.9" rx="2.3" ry="1.8" fill="#f8f8fa"/><ellipse cx="33.5" cy="-20.2" rx="2.3" ry="1.8" fill="#f8f8fa"/><ellipse cx="34.1" cy="-17.5" rx="2.3" ry="1.8" fill="#f8f8fa"/>
<ellipse cx="29.4" cy="-16.1" rx="2.4" ry="1.9" fill="#f2a4c1"/><ellipse cx="29.0" cy="-13.2" rx="2.4" ry="1.9" fill="#f2a4c1"/><ellipse cx="27.7" cy="-10.4" rx="2.4" ry="1.9" fill="#f2a4c1"/><ellipse cx="25.7" cy="-7.8" rx="2.4" ry="1.9" fill="#f2a4c1"/><ellipse cx="22.9" cy="-5.4" rx="2.4" ry="1.9" fill="#f2a4c1"/><ellipse cx="19.4" cy="-3.3" rx="2.4" ry="1.9" fill="#f2a4c1"/><ellipse cx="15.4" cy="-1.6" rx="2.4" ry="1.9" fill="#f2a4c1"/><ellipse cx="11.0" cy="-0.3" rx="2.4" ry="1.9" fill="#f2a4c1"/><ellipse cx="6.2" cy="0.6" rx="2.4" ry="1.9" fill="#f2a4c1"/><ellipse cx="1.2" cy="0.9" rx="2.4" ry="1.9" fill="#f2a4c1"/><ellipse cx="-3.7" cy="0.8" rx="2.4" ry="1.9" fill="#f2a4c1"/><ellipse cx="-8.6" cy="0.2" rx="2.4" ry="1.9" fill="#f2a4c1"/><ellipse cx="-13.2" cy="-0.9" rx="2.4" ry="1.9" fill="#f2a4c1"/><ellipse cx="-17.5" cy="-2.4" rx="2.4" ry="1.9" fill="#f2a4c1"/><ellipse cx="-21.2" cy="-4.3" rx="2.4" ry="1.9" fill="#f2a4c1"/><ellipse cx="-24.4" cy="-6.6" rx="2.4" ry="1.9" fill="#f2a4c1"/><ellipse cx="-26.8" cy="-9.1" rx="2.4" ry="1.9" fill="#f2a4c1"/><ellipse cx="-28.5" cy="-11.8" rx="2.4" ry="1.9" fill="#f2a4c1"/><ellipse cx="-29.3" cy="-14.7" rx="2.4" ry="1.9" fill="#f2a4c1"/><ellipse cx="-29.3" cy="-17.5" rx="2.4" ry="1.9" fill="#f2a4c1"/><ellipse cx="-28.5" cy="-20.4" rx="2.4" ry="1.9" fill="#f2a4c1"/><ellipse cx="-26.8" cy="-23.1" rx="2.4" ry="1.9" fill="#f2a4c1"/><ellipse cx="-24.4" cy="-25.6" rx="2.4" ry="1.9" fill="#f2a4c1"/><ellipse cx="-21.2" cy="-27.9" rx="2.4" ry="1.9" fill="#f2a4c1"/><ellipse cx="-17.5" cy="-29.8" rx="2.4" ry="1.9" fill="#f2a4c1"/><ellipse cx="-13.2" cy="-31.3" rx="2.4" ry="1.9" fill="#f2a4c1"/><ellipse cx="-8.6" cy="-32.4" rx="2.4" ry="1.9" fill="#f2a4c1"/><ellipse cx="-3.7" cy="-33.0" rx="2.4" ry="1.9" fill="#f2a4c1"/><ellipse cx="1.2" cy="-33.1" rx="2.4" ry="1.9" fill="#f2a4c1"/><ellipse cx="6.2" cy="-32.8" rx="2.4" ry="1.9" fill="#f2a4c1"/><ellipse cx="11.0" cy="-31.9" rx="2.4" ry="1.9" fill="#f2a4c1"/><ellipse cx="15.4" cy="-30.6" rx="2.4" ry="1.9" fill="#f2a4c1"/><ellipse cx="19.4" cy="-28.9" rx="2.4" ry="1.9" fill="#f2a4c1"/><ellipse cx="22.9" cy="-26.8" rx="2.4" ry="1.9" fill="#f2a4c1"/><ellipse cx="25.7" cy="-24.4" rx="2.4" ry="1.9" fill="#f2a4c1"/><ellipse cx="27.7" cy="-21.8" rx="2.4" ry="1.9" fill="#f2a4c1"/><ellipse cx="29.0" cy="-19.0" rx="2.4" ry="1.9" fill="#f2a4c1"/>
<ellipse cx="25.2" cy="-16.1" rx="2.3" ry="1.8" fill="#f8d6e2"/><ellipse cx="24.7" cy="-13.3" rx="2.3" ry="1.8" fill="#f8d6e2"/><ellipse cx="23.4" cy="-10.7" rx="2.3" ry="1.8" fill="#f8d6e2"/><ellipse cx="21.2" cy="-8.2" rx="2.3" ry="1.8" fill="#f8d6e2"/><ellipse cx="18.2" cy="-6.0" rx="2.3" ry="1.8" fill="#f8d6e2"/><ellipse cx="14.6" cy="-4.2" rx="2.3" ry="1.8" fill="#f8d6e2"/><ellipse cx="10.5" cy="-2.8" rx="2.3" ry="1.8" fill="#f8d6e2"/><ellipse cx="5.9" cy="-1.9" rx="2.3" ry="1.8" fill="#f8d6e2"/><ellipse cx="1.2" cy="-1.5" rx="2.3" ry="1.8" fill="#f8d6e2"/><ellipse cx="-3.6" cy="-1.6" rx="2.3" ry="1.8" fill="#f8d6e2"/><ellipse cx="-8.2" cy="-2.3" rx="2.3" ry="1.8" fill="#f8d6e2"/><ellipse cx="-12.6" cy="-3.4" rx="2.3" ry="1.8" fill="#f8d6e2"/><ellipse cx="-16.5" cy="-5.1" rx="2.3" ry="1.8" fill="#f8d6e2"/><ellipse cx="-19.8" cy="-7.1" rx="2.3" ry="1.8" fill="#f8d6e2"/><ellipse cx="-22.4" cy="-9.4" rx="2.3" ry="1.8" fill="#f8d6e2"/><ellipse cx="-24.2" cy="-12.0" rx="2.3" ry="1.8" fill="#f8d6e2"/><ellipse cx="-25.1" cy="-14.7" rx="2.3" ry="1.8" fill="#f8d6e2"/><ellipse cx="-25.1" cy="-17.5" rx="2.3" ry="1.8" fill="#f8d6e2"/><ellipse cx="-24.2" cy="-20.2" rx="2.3" ry="1.8" fill="#f8d6e2"/><ellipse cx="-22.4" cy="-22.8" rx="2.3" ry="1.8" fill="#f8d6e2"/><ellipse cx="-19.8" cy="-25.1" rx="2.3" ry="1.8" fill="#f8d6e2"/><ellipse cx="-16.5" cy="-27.1" rx="2.3" ry="1.8" fill="#f8d6e2"/><ellipse cx="-12.6" cy="-28.8" rx="2.3" ry="1.8" fill="#f8d6e2"/><ellipse cx="-8.2" cy="-29.9" rx="2.3" ry="1.8" fill="#f8d6e2"/><ellipse cx="-3.6" cy="-30.6" rx="2.3" ry="1.8" fill="#f8d6e2"/><ellipse cx="1.2" cy="-30.7" rx="2.3" ry="1.8" fill="#f8d6e2"/><ellipse cx="5.9" cy="-30.3" rx="2.3" ry="1.8" fill="#f8d6e2"/><ellipse cx="10.5" cy="-29.4" rx="2.3" ry="1.8" fill="#f8d6e2"/><ellipse cx="14.6" cy="-28.0" rx="2.3" ry="1.8" fill="#f8d6e2"/><ellipse cx="18.2" cy="-26.2" rx="2.3" ry="1.8" fill="#f8d6e2"/><ellipse cx="21.2" cy="-24.0" rx="2.3" ry="1.8" fill="#f8d6e2"/><ellipse cx="23.4" cy="-21.5" rx="2.3" ry="1.8" fill="#f8d6e2"/><ellipse cx="24.7" cy="-18.9" rx="2.3" ry="1.8" fill="#f8d6e2"/>
<ellipse cx="21.6" cy="-16.1" rx="2.1" ry="1.7" fill="#f2a4c1"/><ellipse cx="21.2" cy="-13.6" rx="2.1" ry="1.7" fill="#f2a4c1"/><ellipse cx="19.8" cy="-11.2" rx="2.1" ry="1.7" fill="#f2a4c1"/><ellipse cx="17.7" cy="-8.9" rx="2.1" ry="1.7" fill="#f2a4c1"/><ellipse cx="14.9" cy="-7.0" rx="2.1" ry="1.7" fill="#f2a4c1"/><ellipse cx="11.4" cy="-5.5" rx="2.1" ry="1.7" fill="#f2a4c1"/><ellipse cx="7.5" cy="-4.4" rx="2.1" ry="1.7" fill="#f2a4c1"/><ellipse cx="3.3" cy="-3.7" rx="2.1" ry="1.7" fill="#f2a4c1"/><ellipse cx="-1.1" cy="-3.6" rx="2.1" ry="1.7" fill="#f2a4c1"/><ellipse cx="-5.4" cy="-4.0" rx="2.1" ry="1.7" fill="#f2a4c1"/><ellipse cx="-9.5" cy="-4.9" rx="2.1" ry="1.7" fill="#f2a4c1"/><ellipse cx="-13.2" cy="-6.2" rx="2.1" ry="1.7" fill="#f2a4c1"/><ellipse cx="-16.4" cy="-7.9" rx="2.1" ry="1.7" fill="#f2a4c1"/><ellipse cx="-18.9" cy="-10.0" rx="2.1" ry="1.7" fill="#f2a4c1"/><ellipse cx="-20.6" cy="-12.3" rx="2.1" ry="1.7" fill="#f2a4c1"/><ellipse cx="-21.5" cy="-14.8" rx="2.1" ry="1.7" fill="#f2a4c1"/><ellipse cx="-21.5" cy="-17.4" rx="2.1" ry="1.7" fill="#f2a4c1"/><ellipse cx="-20.6" cy="-19.9" rx="2.1" ry="1.7" fill="#f2a4c1"/><ellipse cx="-18.9" cy="-22.2" rx="2.1" ry="1.7" fill="#f2a4c1"/><ellipse cx="-16.4" cy="-24.3" rx="2.1" ry="1.7" fill="#f2a4c1"/><ellipse cx="-13.2" cy="-26.0" rx="2.1" ry="1.7" fill="#f2a4c1"/><ellipse cx="-9.5" cy="-27.3" rx="2.1" ry="1.7" fill="#f2a4c1"/><ellipse cx="-5.4" cy="-28.2" rx="2.1" ry="1.7" fill="#f2a4c1"/><ellipse cx="-1.1" cy="-28.6" rx="2.1" ry="1.7" fill="#f2a4c1"/><ellipse cx="3.3" cy="-28.5" rx="2.1" ry="1.7" fill="#f2a4c1"/><ellipse cx="7.5" cy="-27.8" rx="2.1" ry="1.7" fill="#f2a4c1"/><ellipse cx="11.4" cy="-26.7" rx="2.1" ry="1.7" fill="#f2a4c1"/><ellipse cx="14.9" cy="-25.2" rx="2.1" ry="1.7" fill="#f2a4c1"/><ellipse cx="17.7" cy="-23.3" rx="2.1" ry="1.7" fill="#f2a4c1"/><ellipse cx="19.8" cy="-21.0" rx="2.1" ry="1.7" fill="#f2a4c1"/><ellipse cx="21.2" cy="-18.6" rx="2.1" ry="1.7" fill="#f2a4c1"/>
<ellipse cx="17.3" cy="-16.1" rx="2.1" ry="1.7" fill="#fbfbfd"/><ellipse cx="16.8" cy="-13.6" rx="2.1" ry="1.7" fill="#fbfbfd"/><ellipse cx="15.2" cy="-11.3" rx="2.1" ry="1.7" fill="#fbfbfd"/><ellipse cx="12.6" cy="-9.2" rx="2.1" ry="1.7" fill="#fbfbfd"/><ellipse cx="9.3" cy="-7.6" rx="2.1" ry="1.7" fill="#fbfbfd"/><ellipse cx="5.3" cy="-6.6" rx="2.1" ry="1.7" fill="#fbfbfd"/><ellipse cx="1.1" cy="-6.1" rx="2.1" ry="1.7" fill="#fbfbfd"/><ellipse cx="-3.2" cy="-6.2" rx="2.1" ry="1.7" fill="#fbfbfd"/><ellipse cx="-7.4" cy="-7.0" rx="2.1" ry="1.7" fill="#fbfbfd"/><ellipse cx="-11.0" cy="-8.4" rx="2.1" ry="1.7" fill="#fbfbfd"/><ellipse cx="-14.0" cy="-10.2" rx="2.1" ry="1.7" fill="#fbfbfd"/><ellipse cx="-16.1" cy="-12.4" rx="2.1" ry="1.7" fill="#fbfbfd"/><ellipse cx="-17.2" cy="-14.8" rx="2.1" ry="1.7" fill="#fbfbfd"/><ellipse cx="-17.2" cy="-17.4" rx="2.1" ry="1.7" fill="#fbfbfd"/><ellipse cx="-16.1" cy="-19.8" rx="2.1" ry="1.7" fill="#fbfbfd"/><ellipse cx="-14.0" cy="-22.0" rx="2.1" ry="1.7" fill="#fbfbfd"/><ellipse cx="-11.0" cy="-23.8" rx="2.1" ry="1.7" fill="#fbfbfd"/><ellipse cx="-7.4" cy="-25.2" rx="2.1" ry="1.7" fill="#fbfbfd"/><ellipse cx="-3.2" cy="-26.0" rx="2.1" ry="1.7" fill="#fbfbfd"/><ellipse cx="1.1" cy="-26.1" rx="2.1" ry="1.7" fill="#fbfbfd"/><ellipse cx="5.3" cy="-25.6" rx="2.1" ry="1.7" fill="#fbfbfd"/><ellipse cx="9.3" cy="-24.6" rx="2.1" ry="1.7" fill="#fbfbfd"/><ellipse cx="12.6" cy="-23.0" rx="2.1" ry="1.7" fill="#fbfbfd"/><ellipse cx="15.2" cy="-20.9" rx="2.1" ry="1.7" fill="#fbfbfd"/><ellipse cx="16.8" cy="-18.6" rx="2.1" ry="1.7" fill="#fbfbfd"/>
<ellipse cx="13.6" cy="-16.1" rx="1.9" ry="1.5" fill="#f4f4f6"/><ellipse cx="13.0" cy="-13.8" rx="1.9" ry="1.5" fill="#f4f4f6"/><ellipse cx="11.2" cy="-11.7" rx="1.9" ry="1.5" fill="#f4f4f6"/><ellipse cx="8.5" cy="-9.9" rx="1.9" ry="1.5" fill="#f4f4f6"/><ellipse cx="5.0" cy="-8.8" rx="1.9" ry="1.5" fill="#f4f4f6"/><ellipse cx="1.0" cy="-8.2" rx="1.9" ry="1.5" fill="#f4f4f6"/><ellipse cx="-3.0" cy="-8.4" rx="1.9" ry="1.5" fill="#f4f4f6"/><ellipse cx="-6.8" cy="-9.3" rx="1.9" ry="1.5" fill="#f4f4f6"/><ellipse cx="-10.0" cy="-10.7" rx="1.9" ry="1.5" fill="#f4f4f6"/><ellipse cx="-12.3" cy="-12.7" rx="1.9" ry="1.5" fill="#f4f4f6"/><ellipse cx="-13.4" cy="-14.9" rx="1.9" ry="1.5" fill="#f4f4f6"/><ellipse cx="-13.4" cy="-17.3" rx="1.9" ry="1.5" fill="#f4f4f6"/><ellipse cx="-12.3" cy="-19.5" rx="1.9" ry="1.5" fill="#f4f4f6"/><ellipse cx="-10.0" cy="-21.5" rx="1.9" ry="1.5" fill="#f4f4f6"/><ellipse cx="-6.8" cy="-22.9" rx="1.9" ry="1.5" fill="#f4f4f6"/><ellipse cx="-3.0" cy="-23.8" rx="1.9" ry="1.5" fill="#f4f4f6"/><ellipse cx="1.0" cy="-24.0" rx="1.9" ry="1.5" fill="#f4f4f6"/><ellipse cx="5.0" cy="-23.4" rx="1.9" ry="1.5" fill="#f4f4f6"/><ellipse cx="8.5" cy="-22.3" rx="1.9" ry="1.5" fill="#f4f4f6"/><ellipse cx="11.2" cy="-20.5" rx="1.9" ry="1.5" fill="#f4f4f6"/><ellipse cx="13.0" cy="-18.4" rx="1.9" ry="1.5" fill="#f4f4f6"/>
<ellipse cx="0" cy="-17.5" rx="11" ry="5.9" fill="#eee2e7"/>
<path d="M-11,-17.5 A11,5.9 0 0 1 11,-17.5 L8,-17.5 A8,4 0 0 0 -8,-17.5 Z" fill="#cdb9c2" opacity="0.6"/>
</g>
<g transform="translate(388,434.8)">
<path d="M-40.7,24 L-40.7,2 A42.7,16 0 0 1 44.7,2 L44.7,24 A42.7,14.5 0 0 1 -40.7,24 Z" fill="#e2dee2"/>
<path d="M-40.7,24 A42.7,14.5 0 0 0 44.7,24 L44.7,26.5 A42.7,11.5 0 0 1 -40.7,26.5 Z" fill="#d3ced4" opacity="0.5"/>
<path d="M-40,-17.3 L-40,17 A40,10.5 0 0 0 40,17 L40,-17.3 Z" fill="#d9d9df"/>
<path d="M-39.0,-14.0V18.8M-36.0,-9.7V20.8M-33.0,-6.9V22.1M-30.0,-4.7V23.1M-27.0,-3.0V23.8M-24.0,-1.6V24.5M-21.0,-0.5V25.0M-18.0,0.5V25.4M-15.0,1.3V25.8M-12.0,1.9V26.0M-9.0,2.3V26.2M-6.0,2.6V26.4M-3.0,2.8V26.5M0.0,2.9V26.5M3.0,2.8V26.5M6.0,2.6V26.4M9.0,2.3V26.2M12.0,1.9V26.0M15.0,1.3V25.8M18.0,0.5V25.4M21.0,-0.5V25.0M24.0,-1.6V24.5M27.0,-3.0V23.8M30.0,-4.7V23.1M33.0,-6.9V22.1M36.0,-9.7V20.8M39.0,-14.0V18.8" stroke="#fcfcfe" stroke-width="2.1" stroke-linecap="round" fill="none"/>
<path d="M-40,-17.3 L-40,17 A40,10.5 0 0 0 40,17 L40,-17.3 Z" fill="url(#sideshade)"/>
<ellipse cx="0" cy="-17.3" rx="40.0" ry="23.2" fill="#e2e2e8"/>
<ellipse cx="0" cy="-16.1" rx="31.5" ry="18.3" fill="#bababc"/>
<ellipse cx="0" cy="-16.1" rx="19.5" ry="11.3" fill="#e2e2e8"/>
<ellipse cx="38.0" cy="-16.1" rx="2.4" ry="1.9" fill="#fbfbfd"/><ellipse cx="37.7" cy="-13.2" rx="2.4" ry="1.9" fill="#fbfbfd"/><ellipse cx="36.7" cy="-10.4" rx="2.4" ry="1.9" fill="#fbfbfd"/><ellipse cx="35.1" cy="-7.7" rx="2.4" ry="1.9" fill="#fbfbfd"/><ellipse cx="32.9" cy="-5.1" rx="2.4" ry="1.9" fill="#fbfbfd"/><ellipse cx="30.1" cy="-2.7" rx="2.4" ry="1.9" fill="#fbfbfd"/><ellipse cx="26.9" cy="-0.5" rx="2.4" ry="1.9" fill="#fbfbfd"/><ellipse cx="23.1" cy="1.4" rx="2.4" ry="1.9" fill="#fbfbfd"/><ellipse cx="19.0" cy="3.0" rx="2.4" ry="1.9" fill="#fbfbfd"/><ellipse cx="14.5" cy="4.3" rx="2.4" ry="1.9" fill="#fbfbfd"/><ellipse cx="9.8" cy="5.2" rx="2.4" ry="1.9" fill="#fbfbfd"/><ellipse cx="5.0" cy="5.8" rx="2.4" ry="1.9" fill="#fbfbfd"/><ellipse cx="0.0" cy="5.9" rx="2.4" ry="1.9" fill="#fbfbfd"/><ellipse cx="-5.0" cy="5.8" rx="2.4" ry="1.9" fill="#fbfbfd"/><ellipse cx="-9.8" cy="5.2" rx="2.4" ry="1.9" fill="#fbfbfd"/><ellipse cx="-14.5" cy="4.3" rx="2.4" ry="1.9" fill="#fbfbfd"/><ellipse cx="-19.0" cy="3.0" rx="2.4" ry="1.9" fill="#fbfbfd"/><ellipse cx="-23.1" cy="1.4" rx="2.4" ry="1.9" fill="#fbfbfd"/><ellipse cx="-26.9" cy="-0.5" rx="2.4" ry="1.9" fill="#fbfbfd"/><ellipse cx="-30.1" cy="-2.7" rx="2.4" ry="1.9" fill="#fbfbfd"/><ellipse cx="-32.9" cy="-5.1" rx="2.4" ry="1.9" fill="#fbfbfd"/><ellipse cx="-35.1" cy="-7.7" rx="2.4" ry="1.9" fill="#fbfbfd"/><ellipse cx="-36.7" cy="-10.4" rx="2.4" ry="1.9" fill="#fbfbfd"/><ellipse cx="-37.7" cy="-13.2" rx="2.4" ry="1.9" fill="#fbfbfd"/><ellipse cx="-38.0" cy="-16.1" rx="2.4" ry="1.9" fill="#fbfbfd"/><ellipse cx="-37.7" cy="-19.0" rx="2.4" ry="1.9" fill="#fbfbfd"/><ellipse cx="-36.7" cy="-21.8" rx="2.4" ry="1.9" fill="#fbfbfd"/><ellipse cx="-35.1" cy="-24.5" rx="2.4" ry="1.9" fill="#fbfbfd"/><ellipse cx="-32.9" cy="-27.1" rx="2.4" ry="1.9" fill="#fbfbfd"/><ellipse cx="-30.1" cy="-29.5" rx="2.4" ry="1.9" fill="#fbfbfd"/><ellipse cx="-26.9" cy="-31.7" rx="2.4" ry="1.9" fill="#fbfbfd"/><ellipse cx="-23.1" cy="-33.6" rx="2.4" ry="1.9" fill="#fbfbfd"/><ellipse cx="-19.0" cy="-35.2" rx="2.4" ry="1.9" fill="#fbfbfd"/><ellipse cx="-14.5" cy="-36.5" rx="2.4" ry="1.9" fill="#fbfbfd"/><ellipse cx="-9.8" cy="-37.4" rx="2.4" ry="1.9" fill="#fbfbfd"/><ellipse cx="-5.0" cy="-38.0" rx="2.4" ry="1.9" fill="#fbfbfd"/><ellipse cx="-0.0" cy="-38.1" rx="2.4" ry="1.9" fill="#fbfbfd"/><ellipse cx="5.0" cy="-38.0" rx="2.4" ry="1.9" fill="#fbfbfd"/><ellipse cx="9.8" cy="-37.4" rx="2.4" ry="1.9" fill="#fbfbfd"/><ellipse cx="14.5" cy="-36.5" rx="2.4" ry="1.9" fill="#fbfbfd"/><ellipse cx="19.0" cy="-35.2" rx="2.4" ry="1.9" fill="#fbfbfd"/><ellipse cx="23.1" cy="-33.6" rx="2.4" ry="1.9" fill="#fbfbfd"/><ellipse cx="26.9" cy="-31.7" rx="2.4" ry="1.9" fill="#fbfbfd"/><ellipse cx="30.1" cy="-29.5" rx="2.4" ry="1.9" fill="#fbfbfd"/><ellipse cx="32.9" cy="-27.1" rx="2.4" ry="1.9" fill="#fbfbfd"/><ellipse cx="35.1" cy="-24.5" rx="2.4" ry="1.9" fill="#fbfbfd"/><ellipse cx="36.7" cy="-21.8" rx="2.4" ry="1.9" fill="#fbfbfd"/><ellipse cx="37.7" cy="-19.0" rx="2.4" ry="1.9" fill="#fbfbfd"/>
<ellipse cx="34.1" cy="-14.7" rx="2.3" ry="1.8" fill="#f8f8fa"/><ellipse cx="33.5" cy="-12.0" rx="2.3" ry="1.8" fill="#f8f8fa"/><ellipse cx="32.1" cy="-9.3" rx="2.3" ry="1.8" fill="#f8f8fa"/><ellipse cx="30.2" cy="-6.8" rx="2.3" ry="1.8" fill="#f8f8fa"/><ellipse cx="27.7" cy="-4.4" rx="2.3" ry="1.8" fill="#f8f8fa"/><ellipse cx="24.6" cy="-2.3" rx="2.3" ry="1.8" fill="#f8f8fa"/><ellipse cx="21.1" cy="-0.5" rx="2.3" ry="1.8" fill="#f8f8fa"/><ellipse cx="17.1" cy="1.1" rx="2.3" ry="1.8" fill="#f8f8fa"/><ellipse cx="12.8" cy="2.3" rx="2.3" ry="1.8" fill="#f8f8fa"/><ellipse cx="8.3" cy="3.1" rx="2.3" ry="1.8" fill="#f8f8fa"/><ellipse cx="3.6" cy="3.6" rx="2.3" ry="1.8" fill="#f8f8fa"/><ellipse cx="-1.2" cy="3.7" rx="2.3" ry="1.8" fill="#f8f8fa"/><ellipse cx="-5.9" cy="3.4" rx="2.3" ry="1.8" fill="#f8f8fa"/><ellipse cx="-10.6" cy="2.8" rx="2.3" ry="1.8" fill="#f8f8fa"/><ellipse cx="-15.0" cy="1.7" rx="2.3" ry="1.8" fill="#f8f8fa"/><ellipse cx="-19.1" cy="0.3" rx="2.3" ry="1.8" fill="#f8f8fa"/><ellipse cx="-22.9" cy="-1.4" rx="2.3" ry="1.8" fill="#f8f8fa"/><ellipse cx="-26.2" cy="-3.3" rx="2.3" ry="1.8" fill="#f8f8fa"/><ellipse cx="-29.0" cy="-5.6" rx="2.3" ry="1.8" fill="#f8f8fa"/><ellipse cx="-31.2" cy="-8.0" rx="2.3" ry="1.8" fill="#f8f8fa"/><ellipse cx="-32.9" cy="-10.6" rx="2.3" ry="1.8" fill="#f8f8fa"/><ellipse cx="-33.9" cy="-13.3" rx="2.3" ry="1.8" fill="#f8f8fa"/><ellipse cx="-34.2" cy="-16.1" rx="2.3" ry="1.8" fill="#f8f8fa"/><ellipse cx="-33.9" cy="-18.9" rx="2.3" ry="1.8" fill="#f8f8fa"/><ellipse cx="-32.9" cy="-21.6" rx="2.3" ry="1.8" fill="#f8f8fa"/><ellipse cx="-31.2" cy="-24.2" rx="2.3" ry="1.8" fill="#f8f8fa"/><ellipse cx="-29.0" cy="-26.6" rx="2.3" ry="1.8" fill="#f8f8fa"/><ellipse cx="-26.2" cy="-28.9" rx="2.3" ry="1.8" fill="#f8f8fa"/><ellipse cx="-22.9" cy="-30.8" rx="2.3" ry="1.8" fill="#f8f8fa"/><ellipse cx="-19.1" cy="-32.5" rx="2.3" ry="1.8" fill="#f8f8fa"/><ellipse cx="-15.0" cy="-33.9" rx="2.3" ry="1.8" fill="#f8f8fa"/><ellipse cx="-10.6" cy="-35.0" rx="2.3" ry="1.8" fill="#f8f8fa"/><ellipse cx="-5.9" cy="-35.6" rx="2.3" ry="1.8" fill="#f8f8fa"/><ellipse cx="-1.2" cy="-35.9" rx="2.3" ry="1.8" fill="#f8f8fa"/><ellipse cx="3.6" cy="-35.8" rx="2.3" ry="1.8" fill="#f8f8fa"/><ellipse cx="8.3" cy="-35.3" rx="2.3" ry="1.8" fill="#f8f8fa"/><ellipse cx="12.8" cy="-34.5" rx="2.3" ry="1.8" fill="#f8f8fa"/><ellipse cx="17.1" cy="-33.3" rx="2.3" ry="1.8" fill="#f8f8fa"/><ellipse cx="21.1" cy="-31.7" rx="2.3" ry="1.8" fill="#f8f8fa"/><ellipse cx="24.6" cy="-29.9" rx="2.3" ry="1.8" fill="#f8f8fa"/><ellipse cx="27.7" cy="-27.8" rx="2.3" ry="1.8" fill="#f8f8fa"/><ellipse cx="30.2" cy="-25.4" rx="2.3" ry="1.8" fill="#f8f8fa"/><ellipse cx="32.1" cy="-22.9" rx="2.3" ry="1.8" fill="#f8f8fa"/><ellipse cx="33.5" cy="-20.2" rx="2.3" ry="1.8" fill="#f8f8fa"/><ellipse cx="34.1" cy="-17.5" rx="2.3" ry="1.8" fill="#f8f8fa"/>
<ellipse cx="29.4" cy="-16.1" rx="2.4" ry="1.9" fill="#a0a0a2"/><ellipse cx="29.0" cy="-13.2" rx="2.4" ry="1.9" fill="#a0a0a2"/><ellipse cx="27.7" cy="-10.4" rx="2.4" ry="1.9" fill="#a0a0a2"/><ellipse cx="25.7" cy="-7.8" rx="2.4" ry="1.9" fill="#a0a0a2"/><ellipse cx="22.9" cy="-5.4" rx="2.4" ry="1.9" fill="#a0a0a2"/><ellipse cx="19.4" cy="-3.3" rx="2.4" ry="1.9" fill="#a0a0a2"/><ellipse cx="15.4" cy="-1.6" rx="2.4" ry="1.9" fill="#a0a0a2"/><ellipse cx="11.0" cy="-0.3" rx="2.4" ry="1.9" fill="#a0a0a2"/><ellipse cx="6.2" cy="0.6" rx="2.4" ry="1.9" fill="#a0a0a2"/><ellipse cx="1.2" cy="0.9" rx="2.4" ry="1.9" fill="#a0a0a2"/><ellipse cx="-3.7" cy="0.8" rx="2.4" ry="1.9" fill="#a0a0a2"/><ellipse cx="-8.6" cy="0.2" rx="2.4" ry="1.9" fill="#a0a0a2"/><ellipse cx="-13.2" cy="-0.9" rx="2.4" ry="1.9" fill="#a0a0a2"/><ellipse cx="-17.5" cy="-2.4" rx="2.4" ry="1.9" fill="#a0a0a2"/><ellipse cx="-21.2" cy="-4.3" rx="2.4" ry="1.9" fill="#a0a0a2"/><ellipse cx="-24.4" cy="-6.6" rx="2.4" ry="1.9" fill="#a0a0a2"/><ellipse cx="-26.8" cy="-9.1" rx="2.4" ry="1.9" fill="#a0a0a2"/><ellipse cx="-28.5" cy="-11.8" rx="2.4" ry="1.9" fill="#a0a0a2"/><ellipse cx="-29.3" cy="-14.7" rx="2.4" ry="1.9" fill="#a0a0a2"/><ellipse cx="-29.3" cy="-17.5" rx="2.4" ry="1.9" fill="#a0a0a2"/><ellipse cx="-28.5" cy="-20.4" rx="2.4" ry="1.9" fill="#a0a0a2"/><ellipse cx="-26.8" cy="-23.1" rx="2.4" ry="1.9" fill="#a0a0a2"/><ellipse cx="-24.4" cy="-25.6" rx="2.4" ry="1.9" fill="#a0a0a2"/><ellipse cx="-21.2" cy="-27.9" rx="2.4" ry="1.9" fill="#a0a0a2"/><ellipse cx="-17.5" cy="-29.8" rx="2.4" ry="1.9" fill="#a0a0a2"/><ellipse cx="-13.2" cy="-31.3" rx="2.4" ry="1.9" fill="#a0a0a2"/><ellipse cx="-8.6" cy="-32.4" rx="2.4" ry="1.9" fill="#a0a0a2"/><ellipse cx="-3.7" cy="-33.0" rx="2.4" ry="1.9" fill="#a0a0a2"/><ellipse cx="1.2" cy="-33.1" rx="2.4" ry="1.9" fill="#a0a0a2"/><ellipse cx="6.2" cy="-32.8" rx="2.4" ry="1.9" fill="#a0a0a2"/><ellipse cx="11.0" cy="-31.9" rx="2.4" ry="1.9" fill="#a0a0a2"/><ellipse cx="15.4" cy="-30.6" rx="2.4" ry="1.9" fill="#a0a0a2"/><ellipse cx="19.4" cy="-28.9" rx="2.4" ry="1.9" fill="#a0a0a2"/><ellipse cx="22.9" cy="-26.8" rx="2.4" ry="1.9" fill="#a0a0a2"/><ellipse cx="25.7" cy="-24.4" rx="2.4" ry="1.9" fill="#a0a0a2"/><ellipse cx="27.7" cy="-21.8" rx="2.4" ry="1.9" fill="#a0a0a2"/><ellipse cx="29.0" cy="-19.0" rx="2.4" ry="1.9" fill="#a0a0a2"/>
<ellipse cx="25.2" cy="-16.1" rx="2.3" ry="1.8" fill="#adadaf"/><ellipse cx="24.7" cy="-13.3" rx="2.3" ry="1.8" fill="#adadaf"/><ellipse cx="23.4" cy="-10.7" rx="2.3" ry="1.8" fill="#adadaf"/><ellipse cx="21.2" cy="-8.2" rx="2.3" ry="1.8" fill="#adadaf"/><ellipse cx="18.2" cy="-6.0" rx="2.3" ry="1.8" fill="#adadaf"/><ellipse cx="14.6" cy="-4.2" rx="2.3" ry="1.8" fill="#adadaf"/><ellipse cx="10.5" cy="-2.8" rx="2.3" ry="1.8" fill="#adadaf"/><ellipse cx="5.9" cy="-1.9" rx="2.3" ry="1.8" fill="#adadaf"/><ellipse cx="1.2" cy="-1.5" rx="2.3" ry="1.8" fill="#adadaf"/><ellipse cx="-3.6" cy="-1.6" rx="2.3" ry="1.8" fill="#adadaf"/><ellipse cx="-8.2" cy="-2.3" rx="2.3" ry="1.8" fill="#adadaf"/><ellipse cx="-12.6" cy="-3.4" rx="2.3" ry="1.8" fill="#adadaf"/><ellipse cx="-16.5" cy="-5.1" rx="2.3" ry="1.8" fill="#adadaf"/><ellipse cx="-19.8" cy="-7.1" rx="2.3" ry="1.8" fill="#adadaf"/><ellipse cx="-22.4" cy="-9.4" rx="2.3" ry="1.8" fill="#adadaf"/><ellipse cx="-24.2" cy="-12.0" rx="2.3" ry="1.8" fill="#adadaf"/><ellipse cx="-25.1" cy="-14.7" rx="2.3" ry="1.8" fill="#adadaf"/><ellipse cx="-25.1" cy="-17.5" rx="2.3" ry="1.8" fill="#adadaf"/><ellipse cx="-24.2" cy="-20.2" rx="2.3" ry="1.8" fill="#adadaf"/><ellipse cx="-22.4" cy="-22.8" rx="2.3" ry="1.8" fill="#adadaf"/><ellipse cx="-19.8" cy="-25.1" rx="2.3" ry="1.8" fill="#adadaf"/><ellipse cx="-16.5" cy="-27.1" rx="2.3" ry="1.8" fill="#adadaf"/><ellipse cx="-12.6" cy="-28.8" rx="2.3" ry="1.8" fill="#adadaf"/><ellipse cx="-8.2" cy="-29.9" rx="2.3" ry="1.8" fill="#adadaf"/><ellipse cx="-3.6" cy="-30.6" rx="2.3" ry="1.8" fill="#adadaf"/><ellipse cx="1.2" cy="-30.7" rx="2.3" ry="1.8" fill="#adadaf"/><ellipse cx="5.9" cy="-30.3" rx="2.3" ry="1.8" fill="#adadaf"/><ellipse cx="10.5" cy="-29.4" rx="2.3" ry="1.8" fill="#adadaf"/><ellipse cx="14.6" cy="-28.0" rx="2.3" ry="1.8" fill="#adadaf"/><ellipse cx="18.2" cy="-26.2" rx="2.3" ry="1.8" fill="#adadaf"/><ellipse cx="21.2" cy="-24.0" rx="2.3" ry="1.8" fill="#adadaf"/><ellipse cx="23.4" cy="-21.5" rx="2.3" ry="1.8" fill="#adadaf"/><ellipse cx="24.7" cy="-18.9" rx="2.3" ry="1.8" fill="#adadaf"/>
<ellipse cx="21.6" cy="-16.1" rx="2.1" ry="1.7" fill="#a0a0a2"/><ellipse cx="21.2" cy="-13.6" rx="2.1" ry="1.7" fill="#a0a0a2"/><ellipse cx="19.8" cy="-11.2" rx="2.1" ry="1.7" fill="#a0a0a2"/><ellipse cx="17.7" cy="-8.9" rx="2.1" ry="1.7" fill="#a0a0a2"/><ellipse cx="14.9" cy="-7.0" rx="2.1" ry="1.7" fill="#a0a0a2"/><ellipse cx="11.4" cy="-5.5" rx="2.1" ry="1.7" fill="#a0a0a2"/><ellipse cx="7.5" cy="-4.4" rx="2.1" ry="1.7" fill="#a0a0a2"/><ellipse cx="3.3" cy="-3.7" rx="2.1" ry="1.7" fill="#a0a0a2"/><ellipse cx="-1.1" cy="-3.6" rx="2.1" ry="1.7" fill="#a0a0a2"/><ellipse cx="-5.4" cy="-4.0" rx="2.1" ry="1.7" fill="#a0a0a2"/><ellipse cx="-9.5" cy="-4.9" rx="2.1" ry="1.7" fill="#a0a0a2"/><ellipse cx="-13.2" cy="-6.2" rx="2.1" ry="1.7" fill="#a0a0a2"/><ellipse cx="-16.4" cy="-7.9" rx="2.1" ry="1.7" fill="#a0a0a2"/><ellipse cx="-18.9" cy="-10.0" rx="2.1" ry="1.7" fill="#a0a0a2"/><ellipse cx="-20.6" cy="-12.3" rx="2.1" ry="1.7" fill="#a0a0a2"/><ellipse cx="-21.5" cy="-14.8" rx="2.1" ry="1.7" fill="#a0a0a2"/><ellipse cx="-21.5" cy="-17.4" rx="2.1" ry="1.7" fill="#a0a0a2"/><ellipse cx="-20.6" cy="-19.9" rx="2.1" ry="1.7" fill="#a0a0a2"/><ellipse cx="-18.9" cy="-22.2" rx="2.1" ry="1.7" fill="#a0a0a2"/><ellipse cx="-16.4" cy="-24.3" rx="2.1" ry="1.7" fill="#a0a0a2"/><ellipse cx="-13.2" cy="-26.0" rx="2.1" ry="1.7" fill="#a0a0a2"/><ellipse cx="-9.5" cy="-27.3" rx="2.1" ry="1.7" fill="#a0a0a2"/><ellipse cx="-5.4" cy="-28.2" rx="2.1" ry="1.7" fill="#a0a0a2"/><ellipse cx="-1.1" cy="-28.6" rx="2.1" ry="1.7" fill="#a0a0a2"/><ellipse cx="3.3" cy="-28.5" rx="2.1" ry="1.7" fill="#a0a0a2"/><ellipse cx="7.5" cy="-27.8" rx="2.1" ry="1.7" fill="#a0a0a2"/><ellipse cx="11.4" cy="-26.7" rx="2.1" ry="1.7" fill="#a0a0a2"/><ellipse cx="14.9" cy="-25.2" rx="2.1" ry="1.7" fill="#a0a0a2"/><ellipse cx="17.7" cy="-23.3" rx="2.1" ry="1.7" fill="#a0a0a2"/><ellipse cx="19.8" cy="-21.0" rx="2.1" ry="1.7" fill="#a0a0a2"/><ellipse cx="21.2" cy="-18.6" rx="2.1" ry="1.7" fill="#a0a0a2"/>
<ellipse cx="17.3" cy="-16.1" rx="2.1" ry="1.7" fill="#fbfbfd"/><ellipse cx="16.8" cy="-13.6" rx="2.1" ry="1.7" fill="#fbfbfd"/><ellipse cx="15.2" cy="-11.3" rx="2.1" ry="1.7" fill="#fbfbfd"/><ellipse cx="12.6" cy="-9.2" rx="2.1" ry="1.7" fill="#fbfbfd"/><ellipse cx="9.3" cy="-7.6" rx="2.1" ry="1.7" fill="#fbfbfd"/><ellipse cx="5.3" cy="-6.6" rx="2.1" ry="1.7" fill="#fbfbfd"/><ellipse cx="1.1" cy="-6.1" rx="2.1" ry="1.7" fill="#fbfbfd"/><ellipse cx="-3.2" cy="-6.2" rx="2.1" ry="1.7" fill="#fbfbfd"/><ellipse cx="-7.4" cy="-7.0" rx="2.1" ry="1.7" fill="#fbfbfd"/><ellipse cx="-11.0" cy="-8.4" rx="2.1" ry="1.7" fill="#fbfbfd"/><ellipse cx="-14.0" cy="-10.2" rx="2.1" ry="1.7" fill="#fbfbfd"/><ellipse cx="-16.1" cy="-12.4" rx="2.1" ry="1.7" fill="#fbfbfd"/><ellipse cx="-17.2" cy="-14.8" rx="2.1" ry="1.7" fill="#fbfbfd"/><ellipse cx="-17.2" cy="-17.4" rx="2.1" ry="1.7" fill="#fbfbfd"/><ellipse cx="-16.1" cy="-19.8" rx="2.1" ry="1.7" fill="#fbfbfd"/><ellipse cx="-14.0" cy="-22.0" rx="2.1" ry="1.7" fill="#fbfbfd"/><ellipse cx="-11.0" cy="-23.8" rx="2.1" ry="1.7" fill="#fbfbfd"/><ellipse cx="-7.4" cy="-25.2" rx="2.1" ry="1.7" fill="#fbfbfd"/><ellipse cx="-3.2" cy="-26.0" rx="2.1" ry="1.7" fill="#fbfbfd"/><ellipse cx="1.1" cy="-26.1" rx="2.1" ry="1.7" fill="#fbfbfd"/><ellipse cx="5.3" cy="-25.6" rx="2.1" ry="1.7" fill="#fbfbfd"/><ellipse cx="9.3" cy="-24.6" rx="2.1" ry="1.7" fill="#fbfbfd"/><ellipse cx="12.6" cy="-23.0" rx="2.1" ry="1.7" fill="#fbfbfd"/><ellipse cx="15.2" cy="-20.9" rx="2.1" ry="1.7" fill="#fbfbfd"/><ellipse cx="16.8" cy="-18.6" rx="2.1" ry="1.7" fill="#fbfbfd"/>
<ellipse cx="13.6" cy="-16.1" rx="1.9" ry="1.5" fill="#f4f4f6"/><ellipse cx="13.0" cy="-13.8" rx="1.9" ry="1.5" fill="#f4f4f6"/><ellipse cx="11.2" cy="-11.7" rx="1.9" ry="1.5" fill="#f4f4f6"/><ellipse cx="8.5" cy="-9.9" rx="1.9" ry="1.5" fill="#f4f4f6"/><ellipse cx="5.0" cy="-8.8" rx="1.9" ry="1.5" fill="#f4f4f6"/><ellipse cx="1.0" cy="-8.2" rx="1.9" ry="1.5" fill="#f4f4f6"/><ellipse cx="-3.0" cy="-8.4" rx="1.9" ry="1.5" fill="#f4f4f6"/><ellipse cx="-6.8" cy="-9.3" rx="1.9" ry="1.5" fill="#f4f4f6"/><ellipse cx="-10.0" cy="-10.7" rx="1.9" ry="1.5" fill="#f4f4f6"/><ellipse cx="-12.3" cy="-12.7" rx="1.9" ry="1.5" fill="#f4f4f6"/><ellipse cx="-13.4" cy="-14.9" rx="1.9" ry="1.5" fill="#f4f4f6"/><ellipse cx="-13.4" cy="-17.3" rx="1.9" ry="1.5" fill="#f4f4f6"/><ellipse cx="-12.3" cy="-19.5" rx="1.9" ry="1.5" fill="#f4f4f6"/><ellipse cx="-10.0" cy="-21.5" rx="1.9" ry="1.5" fill="#f4f4f6"/><ellipse cx="-6.8" cy="-22.9" rx="1.9" ry="1.5" fill="#f4f4f6"/><ellipse cx="-3.0" cy="-23.8" rx="1.9" ry="1.5" fill="#f4f4f6"/><ellipse cx="1.0" cy="-24.0" rx="1.9" ry="1.5" fill="#f4f4f6"/><ellipse cx="5.0" cy="-23.4" rx="1.9" ry="1.5" fill="#f4f4f6"/><ellipse cx="8.5" cy="-22.3" rx="1.9" ry="1.5" fill="#f4f4f6"/><ellipse cx="11.2" cy="-20.5" rx="1.9" ry="1.5" fill="#f4f4f6"/><ellipse cx="13.0" cy="-18.4" rx="1.9" ry="1.5" fill="#f4f4f6"/>
<ellipse cx="0" cy="-17.5" rx="11" ry="5.9" fill="#e4e4e6"/>
<path d="M-11,-17.5 A11,5.9 0 0 1 11,-17.5 L8,-17.5 A8,4 0 0 0 -8,-17.5 Z" fill="#b8b8bc" opacity="0.6"/>
</g>
<g transform="translate(286.7,356.6)">
<ellipse cx="0" cy="1.5" rx="47.2" ry="31.8" fill="#e7e5e9"/>
<ellipse cx="0" cy="-4" rx="46.6" ry="27.5" fill="#f3f2f5"/>
<path d="M-40.8,-15.7V-8.0M-39.1,-6.0V4.7M-37.4,-19.7V-8.4M-35.7,-6.4V8.2M-34.0,-22.7V-8.8M-32.3,-6.8V10.9M-30.6,-25.0V-9.1M-28.9,-7.1V12.9M-27.2,-26.9V-9.3M-25.5,-7.3V14.6M-23.8,-28.5V-9.5M-22.1,-7.5V16.0M-20.4,-29.7V-9.6M-18.7,-7.6V17.1M-17.0,-30.8V-9.7M-15.3,-7.7V18.0M-13.6,-31.6V-9.8M-11.9,-7.8V18.8M-10.2,-32.2V-9.9M-8.5,-7.9V19.3M-6.8,-32.7V-10.0M-5.1,-8.0V19.7M-3.4,-32.9V-10.0M-1.7,-8.0V19.9M-0.0,-33.0V-10.0M1.7,-8.0V20.0M3.4,-32.9V-10.0M5.1,-8.0V19.9M6.8,-32.7V-10.0M8.5,-8.0V19.7M10.2,-32.2V-9.9M11.9,-7.9V19.3M13.6,-31.6V-9.8M15.3,-7.8V18.8M17.0,-30.8V-9.7M18.7,-7.7V18.0M20.4,-29.7V-9.6M22.1,-7.6V17.1M23.8,-28.5V-9.5M25.5,-7.5V16.0M27.2,-26.9V-9.3M28.9,-7.3V14.6M30.6,-25.0V-9.1M32.3,-7.1V12.9M34.0,-22.7V-8.8M35.7,-6.8V10.9M37.4,-19.7V-8.4M39.1,-6.4V8.2M40.8,-15.7V-8.0M42.5,-6.0V4.7" stroke="#d5d4da" stroke-width="1.1" fill="none"/>
<path d="M-39.6,-15.2V-8.0M-37.9,-6.0V4.7M-36.2,-19.2V-8.4M-34.5,-6.4V8.2M-32.8,-22.2V-8.8M-31.1,-6.8V10.9M-29.4,-24.5V-9.1M-27.7,-7.1V12.9M-26.0,-26.4V-9.3M-24.3,-7.3V14.6M-22.6,-28.0V-9.5M-20.9,-7.5V16.0M-19.2,-29.2V-9.6M-17.5,-7.6V17.1M-15.8,-30.3V-9.7M-14.1,-7.7V18.0M-12.4,-31.1V-9.8M-10.7,-7.8V18.8M-9.0,-31.7V-9.9M-7.3,-7.9V19.3M-5.6,-32.2V-10.0M-3.9,-8.0V19.7M-2.2,-32.4V-10.0M-0.5,-8.0V19.9M1.2,-32.5V-10.0M2.9,-8.0V20.0M4.6,-32.4V-10.0M6.3,-8.0V19.9M8.0,-32.2V-10.0M9.7,-8.0V19.7M11.4,-31.7V-9.9M13.1,-7.9V19.3M14.8,-31.1V-9.8M16.5,-7.8V18.8M18.2,-30.3V-9.7M19.9,-7.7V18.0M21.6,-29.2V-9.6M23.3,-7.6V17.1M25.0,-28.0V-9.5M26.7,-7.5V16.0M28.4,-26.4V-9.3M30.1,-7.3V14.6M31.8,-24.5V-9.1M33.5,-7.1V12.9M35.2,-22.2V-8.8M36.9,-6.8V10.9M38.6,-19.2V-8.4M40.3,-6.4V8.2M42.0,-15.2V-8.0M43.7,-6.0V4.7" stroke="#fdfdff" stroke-width="1.3" fill="none"/>
<ellipse cx="0" cy="-4" rx="46.6" ry="27.5" fill="url(#ridgefade)"/>
</g>
<g transform="translate(286.7,509.4)">
<path d="M-46,-10 L-46,16 A46.3,21.5 0 0 0 46.5,16 L46.5,-10 Z" fill="#eeedf0"/>
<path d="M-45,20 A46,18 0 0 0 45.5,20" fill="none" stroke="#d9d8dc" stroke-width="1"/>
<path d="M-43,27 A44,14 0 0 0 43.5,27" fill="none" stroke="#dddce0" stroke-width="1"/>
<ellipse cx="0" cy="-10" rx="43.3" ry="28.9" fill="#5e5f63"/>
<ellipse cx="0" cy="-10" rx="43.3" ry="28.9" fill="url(#speck)"/>
<ellipse cx="0" cy="-10" rx="43.3" ry="28.9" fill="url(#stoneshade)"/>
</g>
</svg>
</body></html>
